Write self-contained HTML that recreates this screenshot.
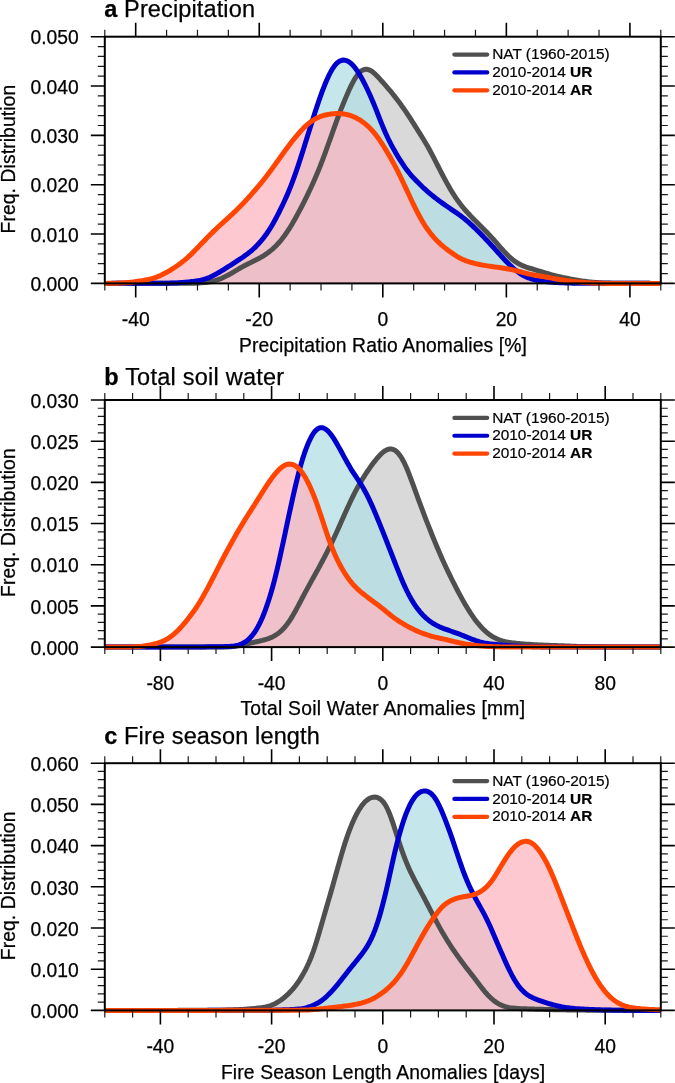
<!DOCTYPE html>
<html><head><meta charset="utf-8"><style>
html,body{margin:0;padding:0;background:#fff;}
body{width:675px;height:1083px;overflow:hidden;}
svg{display:block;will-change:transform;}
.t{font-family:"Liberation Sans", sans-serif;font-size:19.3px;fill:#000;stroke:#000;stroke-width:0.25px;}
.ti{font-family:"Liberation Sans", sans-serif;font-size:23.5px;fill:#000;stroke:#000;stroke-width:0.25px;}
.lg{font-family:"Liberation Sans", sans-serif;font-size:15.4px;fill:#000;stroke:#000;stroke-width:0.2px;}
</style></head><body>
<svg width="675" height="1083" viewBox="0 0 675 1083">
<rect width="675" height="1083" fill="#fff"/>
<path d="M104.80,283.40 L106.30,283.40 L107.80,283.39 L109.30,283.39 L110.80,283.39 L112.30,283.38 L113.80,283.38 L115.30,283.38 L116.80,283.37 L118.30,283.37 L119.80,283.36 L121.30,283.36 L122.80,283.36 L124.30,283.35 L125.80,283.35 L127.30,283.35 L128.80,283.34 L130.30,283.34 L131.80,283.34 L133.30,283.33 L134.80,283.33 L136.30,283.33 L137.80,283.32 L139.30,283.32 L140.80,283.32 L142.30,283.31 L143.80,283.31 L145.30,283.30 L146.80,283.30 L148.30,283.30 L149.80,283.29 L151.30,283.29 L152.80,283.29 L154.30,283.28 L155.80,283.28 L157.30,283.28 L158.80,283.27 L160.30,283.27 L161.80,283.26 L163.30,283.26 L164.80,283.26 L166.30,283.25 L167.80,283.25 L169.30,283.25 L170.80,283.25 L172.30,283.25 L173.80,283.24 L175.30,283.24 L176.80,283.24 L178.30,283.25 L179.80,283.25 L181.30,283.25 L182.80,283.25 L184.30,283.25 L185.80,283.25 L187.30,283.25 L188.80,283.24 L190.30,283.23 L191.80,283.21 L193.30,283.18 L194.80,283.14 L196.30,283.10 L197.80,283.03 L199.30,282.95 L200.80,282.86 L202.30,282.74 L203.80,282.60 L205.30,282.44 L206.80,282.25 L208.30,282.03 L209.80,281.77 L211.30,281.48 L212.80,281.16 L214.30,280.79 L215.80,280.38 L217.30,279.92 L218.80,279.41 L220.30,278.84 L221.80,278.23 L223.30,277.56 L224.80,276.85 L226.30,276.10 L227.80,275.31 L229.30,274.49 L230.80,273.64 L232.30,272.76 L233.80,271.87 L235.30,270.97 L236.80,270.06 L238.30,269.16 L239.80,268.27 L241.30,267.40 L242.80,266.56 L244.30,265.75 L245.80,264.97 L247.30,264.22 L248.80,263.49 L250.30,262.76 L251.80,262.04 L253.30,261.32 L254.80,260.58 L256.30,259.83 L257.80,259.05 L259.30,258.24 L260.80,257.40 L262.30,256.52 L263.80,255.59 L265.30,254.61 L266.80,253.57 L268.30,252.48 L269.80,251.32 L271.30,250.09 L272.80,248.79 L274.30,247.42 L275.80,245.96 L277.30,244.42 L278.80,242.78 L280.30,241.06 L281.80,239.23 L283.30,237.31 L284.80,235.29 L286.30,233.16 L287.80,230.94 L289.30,228.62 L290.80,226.21 L292.30,223.70 L293.80,221.11 L295.30,218.44 L296.80,215.71 L298.30,212.93 L299.80,210.11 L301.30,207.25 L302.80,204.33 L304.30,201.36 L305.80,198.35 L307.30,195.29 L308.80,192.18 L310.30,189.01 L311.80,185.79 L313.30,182.48 L314.80,179.10 L316.30,175.61 L317.80,172.02 L319.30,168.32 L320.80,164.51 L322.30,160.60 L323.80,156.61 L325.30,152.53 L326.80,148.40 L328.30,144.24 L329.80,140.05 L331.30,135.85 L332.80,131.64 L334.30,127.46 L335.80,123.30 L337.30,119.20 L338.80,115.17 L340.30,111.22 L341.80,107.37 L343.30,103.60 L344.80,99.93 L346.30,96.35 L347.80,92.89 L349.30,89.56 L350.80,86.38 L352.30,83.39 L353.80,80.60 L355.30,78.05 L356.80,75.79 L358.30,73.84 L359.80,72.22 L361.30,70.96 L362.80,70.05 L364.30,69.48 L365.80,69.24 L367.30,69.32 L368.80,69.71 L370.30,70.37 L371.80,71.30 L373.30,72.44 L374.80,73.77 L376.30,75.24 L377.80,76.80 L379.30,78.42 L380.80,80.07 L382.30,81.74 L383.80,83.41 L385.30,85.09 L386.80,86.80 L388.30,88.54 L389.80,90.33 L391.30,92.15 L392.80,94.01 L394.30,95.91 L395.80,97.85 L397.30,99.82 L398.80,101.82 L400.30,103.85 L401.80,105.91 L403.30,108.01 L404.80,110.15 L406.30,112.35 L407.80,114.59 L409.30,116.89 L410.80,119.22 L412.30,121.57 L413.80,123.95 L415.30,126.32 L416.80,128.70 L418.30,131.07 L419.80,133.45 L421.30,135.85 L422.80,138.27 L424.30,140.75 L425.80,143.27 L427.30,145.86 L428.80,148.52 L430.30,151.26 L431.80,154.08 L433.30,156.95 L434.80,159.86 L436.30,162.80 L437.80,165.75 L439.30,168.69 L440.80,171.62 L442.30,174.51 L443.80,177.36 L445.30,180.16 L446.80,182.91 L448.30,185.59 L449.80,188.20 L451.30,190.73 L452.80,193.16 L454.30,195.51 L455.80,197.77 L457.30,199.94 L458.80,202.01 L460.30,204.01 L461.80,205.92 L463.30,207.77 L464.80,209.55 L466.30,211.26 L467.80,212.93 L469.30,214.55 L470.80,216.12 L472.30,217.67 L473.80,219.19 L475.30,220.69 L476.80,222.18 L478.30,223.67 L479.80,225.16 L481.30,226.65 L482.80,228.16 L484.30,229.68 L485.80,231.22 L487.30,232.79 L488.80,234.37 L490.30,235.98 L491.80,237.62 L493.30,239.27 L494.80,240.95 L496.30,242.65 L497.80,244.36 L499.30,246.08 L500.80,247.79 L502.30,249.48 L503.80,251.13 L505.30,252.75 L506.80,254.31 L508.30,255.80 L509.80,257.21 L511.30,258.54 L512.80,259.78 L514.30,260.92 L515.80,261.96 L517.30,262.91 L518.80,263.77 L520.30,264.55 L521.80,265.25 L523.30,265.89 L524.80,266.47 L526.30,267.02 L527.80,267.53 L529.30,268.02 L530.80,268.50 L532.30,268.98 L533.80,269.44 L535.30,269.90 L536.80,270.36 L538.30,270.81 L539.80,271.26 L541.30,271.72 L542.80,272.17 L544.30,272.62 L545.80,273.06 L547.30,273.51 L548.80,273.94 L550.30,274.37 L551.80,274.79 L553.30,275.20 L554.80,275.59 L556.30,275.97 L557.80,276.33 L559.30,276.68 L560.80,277.02 L562.30,277.34 L563.80,277.66 L565.30,277.97 L566.80,278.27 L568.30,278.57 L569.80,278.85 L571.30,279.14 L572.80,279.41 L574.30,279.68 L575.80,279.94 L577.30,280.19 L578.80,280.43 L580.30,280.67 L581.80,280.90 L583.30,281.12 L584.80,281.33 L586.30,281.53 L587.80,281.71 L589.30,281.89 L590.80,282.05 L592.30,282.20 L593.80,282.34 L595.30,282.46 L596.80,282.57 L598.30,282.67 L599.80,282.75 L601.30,282.83 L602.80,282.89 L604.30,282.95 L605.80,283.00 L607.30,283.04 L608.80,283.07 L610.30,283.11 L611.80,283.14 L613.30,283.17 L614.80,283.20 L616.30,283.23 L617.80,283.25 L619.30,283.27 L620.80,283.29 L622.30,283.30 L623.80,283.31 L625.30,283.32 L626.80,283.32 L628.30,283.33 L629.80,283.33 L631.30,283.34 L632.80,283.34 L634.30,283.34 L635.80,283.34 L637.30,283.35 L638.80,283.35 L640.30,283.35 L641.80,283.36 L643.30,283.36 L644.80,283.36 L646.30,283.36 L647.80,283.37 L649.30,283.37 L650.80,283.38 L652.30,283.38 L653.80,283.38 L655.30,283.39 L656.80,283.39 L658.30,283.39 L659.80,283.40 L660.80,283.40 L660.80,283.40 L104.80,283.40 Z" fill="#d9d9d9" stroke="none"/>
<path d="M104.80,283.40 L106.30,283.39 L107.80,283.39 L109.30,283.38 L110.80,283.38 L112.30,283.37 L113.80,283.37 L115.30,283.36 L116.80,283.36 L118.30,283.35 L119.80,283.35 L121.30,283.34 L122.80,283.33 L124.30,283.33 L125.80,283.32 L127.30,283.32 L128.80,283.31 L130.30,283.31 L131.80,283.30 L133.30,283.30 L134.80,283.29 L136.30,283.28 L137.80,283.28 L139.30,283.27 L140.80,283.27 L142.30,283.26 L143.80,283.26 L145.30,283.25 L146.80,283.25 L148.30,283.25 L149.80,283.24 L151.30,283.24 L152.80,283.24 L154.30,283.24 L155.80,283.23 L157.30,283.23 L158.80,283.23 L160.30,283.22 L161.80,283.22 L163.30,283.21 L164.80,283.20 L166.30,283.19 L167.80,283.17 L169.30,283.14 L170.80,283.11 L172.30,283.07 L173.80,283.02 L175.30,282.96 L176.80,282.88 L178.30,282.80 L179.80,282.71 L181.30,282.60 L182.80,282.48 L184.30,282.35 L185.80,282.22 L187.30,282.07 L188.80,281.91 L190.30,281.75 L191.80,281.58 L193.30,281.39 L194.80,281.19 L196.30,280.97 L197.80,280.72 L199.30,280.44 L200.80,280.12 L202.30,279.76 L203.80,279.35 L205.30,278.89 L206.80,278.38 L208.30,277.82 L209.80,277.20 L211.30,276.53 L212.80,275.81 L214.30,275.04 L215.80,274.23 L217.30,273.38 L218.80,272.51 L220.30,271.61 L221.80,270.70 L223.30,269.78 L224.80,268.84 L226.30,267.90 L227.80,266.95 L229.30,265.99 L230.80,265.03 L232.30,264.07 L233.80,263.11 L235.30,262.14 L236.80,261.17 L238.30,260.20 L239.80,259.21 L241.30,258.21 L242.80,257.20 L244.30,256.15 L245.80,255.08 L247.30,253.97 L248.80,252.81 L250.30,251.60 L251.80,250.33 L253.30,248.99 L254.80,247.59 L256.30,246.12 L257.80,244.57 L259.30,242.95 L260.80,241.24 L262.30,239.44 L263.80,237.54 L265.30,235.54 L266.80,233.44 L268.30,231.23 L269.80,228.91 L271.30,226.47 L272.80,223.93 L274.30,221.28 L275.80,218.53 L277.30,215.68 L278.80,212.74 L280.30,209.72 L281.80,206.63 L283.30,203.47 L284.80,200.22 L286.30,196.87 L287.80,193.40 L289.30,189.81 L290.80,186.06 L292.30,182.17 L293.80,178.12 L295.30,173.92 L296.80,169.58 L298.30,165.12 L299.80,160.55 L301.30,155.89 L302.80,151.16 L304.30,146.38 L305.80,141.59 L307.30,136.80 L308.80,132.00 L310.30,127.22 L311.80,122.46 L313.30,117.74 L314.80,113.07 L316.30,108.46 L317.80,103.95 L319.30,99.57 L320.80,95.31 L322.30,91.21 L323.80,87.28 L325.30,83.54 L326.80,80.00 L328.30,76.69 L329.80,73.63 L331.30,70.83 L332.80,68.33 L334.30,66.15 L335.80,64.29 L337.30,62.78 L338.80,61.62 L340.30,60.78 L341.80,60.28 L343.30,60.09 L344.80,60.19 L346.30,60.57 L347.80,61.22 L349.30,62.11 L350.80,63.26 L352.30,64.65 L353.80,66.27 L355.30,68.11 L356.80,70.17 L358.30,72.43 L359.80,74.88 L361.30,77.49 L362.80,80.26 L364.30,83.15 L365.80,86.15 L367.30,89.26 L368.80,92.47 L370.30,95.78 L371.80,99.21 L373.30,102.75 L374.80,106.41 L376.30,110.16 L377.80,113.97 L379.30,117.81 L380.80,121.62 L382.30,125.36 L383.80,128.98 L385.30,132.46 L386.80,135.78 L388.30,138.95 L389.80,141.97 L391.30,144.86 L392.80,147.63 L394.30,150.30 L395.80,152.90 L397.30,155.45 L398.80,157.93 L400.30,160.35 L401.80,162.69 L403.30,164.95 L404.80,167.11 L406.30,169.17 L407.80,171.13 L409.30,173.01 L410.80,174.80 L412.30,176.53 L413.80,178.19 L415.30,179.79 L416.80,181.34 L418.30,182.86 L419.80,184.34 L421.30,185.79 L422.80,187.21 L424.30,188.60 L425.80,189.95 L427.30,191.28 L428.80,192.57 L430.30,193.83 L431.80,195.07 L433.30,196.29 L434.80,197.48 L436.30,198.65 L437.80,199.79 L439.30,200.92 L440.80,202.02 L442.30,203.10 L443.80,204.16 L445.30,205.21 L446.80,206.25 L448.30,207.28 L449.80,208.30 L451.30,209.31 L452.80,210.32 L454.30,211.33 L455.80,212.36 L457.30,213.40 L458.80,214.46 L460.30,215.56 L461.80,216.69 L463.30,217.86 L464.80,219.06 L466.30,220.31 L467.80,221.60 L469.30,222.93 L470.80,224.30 L472.30,225.69 L473.80,227.12 L475.30,228.57 L476.80,230.04 L478.30,231.53 L479.80,233.03 L481.30,234.54 L482.80,236.07 L484.30,237.62 L485.80,239.19 L487.30,240.77 L488.80,242.37 L490.30,243.99 L491.80,245.63 L493.30,247.28 L494.80,248.94 L496.30,250.60 L497.80,252.27 L499.30,253.93 L500.80,255.59 L502.30,257.23 L503.80,258.85 L505.30,260.45 L506.80,262.01 L508.30,263.53 L509.80,265.00 L511.30,266.41 L512.80,267.77 L514.30,269.08 L515.80,270.32 L517.30,271.50 L518.80,272.61 L520.30,273.64 L521.80,274.60 L523.30,275.48 L524.80,276.28 L526.30,277.01 L527.80,277.66 L529.30,278.24 L530.80,278.75 L532.30,279.20 L533.80,279.60 L535.30,279.96 L536.80,280.27 L538.30,280.56 L539.80,280.82 L541.30,281.05 L542.80,281.26 L544.30,281.45 L545.80,281.63 L547.30,281.79 L548.80,281.93 L550.30,282.07 L551.80,282.18 L553.30,282.29 L554.80,282.39 L556.30,282.48 L557.80,282.57 L559.30,282.64 L560.80,282.72 L562.30,282.79 L563.80,282.85 L565.30,282.91 L566.80,282.96 L568.30,283.01 L569.80,283.06 L571.30,283.10 L572.80,283.13 L574.30,283.16 L575.80,283.18 L577.30,283.20 L578.80,283.21 L580.30,283.22 L581.80,283.23 L583.30,283.24 L584.80,283.24 L586.30,283.24 L587.80,283.24 L589.30,283.25 L590.80,283.25 L592.30,283.25 L593.80,283.25 L595.30,283.25 L596.80,283.25 L598.30,283.26 L599.80,283.26 L601.30,283.26 L602.80,283.26 L604.30,283.27 L605.80,283.27 L607.30,283.27 L608.80,283.28 L610.30,283.28 L611.80,283.29 L613.30,283.29 L614.80,283.29 L616.30,283.30 L617.80,283.30 L619.30,283.30 L620.80,283.31 L622.30,283.31 L623.80,283.31 L625.30,283.32 L626.80,283.32 L628.30,283.32 L629.80,283.33 L631.30,283.33 L632.80,283.33 L634.30,283.34 L635.80,283.34 L637.30,283.35 L638.80,283.35 L640.30,283.35 L641.80,283.36 L643.30,283.36 L644.80,283.36 L646.30,283.37 L647.80,283.37 L649.30,283.37 L650.80,283.38 L652.30,283.38 L653.80,283.38 L655.30,283.39 L656.80,283.39 L658.30,283.39 L659.80,283.40 L660.80,283.40 L660.80,283.40 L104.80,283.40 Z" fill="rgba(178,223,230,0.75)" stroke="none"/>
<path d="M104.80,283.40 L106.30,283.40 L107.80,283.37 L109.30,283.35 L110.80,283.32 L112.30,283.29 L113.80,283.25 L115.30,283.21 L116.80,283.17 L118.30,283.11 L119.80,283.06 L121.30,282.99 L122.80,282.91 L124.30,282.82 L125.80,282.72 L127.30,282.60 L128.80,282.47 L130.30,282.32 L131.80,282.15 L133.30,281.96 L134.80,281.76 L136.30,281.55 L137.80,281.33 L139.30,281.09 L140.80,280.85 L142.30,280.60 L143.80,280.34 L145.30,280.06 L146.80,279.76 L148.30,279.45 L149.80,279.10 L151.30,278.72 L152.80,278.30 L154.30,277.85 L155.80,277.34 L157.30,276.79 L158.80,276.19 L160.30,275.54 L161.80,274.85 L163.30,274.11 L164.80,273.33 L166.30,272.52 L167.80,271.68 L169.30,270.80 L170.80,269.89 L172.30,268.96 L173.80,268.00 L175.30,267.01 L176.80,265.99 L178.30,264.94 L179.80,263.85 L181.30,262.73 L182.80,261.57 L184.30,260.36 L185.80,259.12 L187.30,257.82 L188.80,256.48 L190.30,255.08 L191.80,253.62 L193.30,252.12 L194.80,250.58 L196.30,249.02 L197.80,247.45 L199.30,245.87 L200.80,244.30 L202.30,242.74 L203.80,241.18 L205.30,239.64 L206.80,238.11 L208.30,236.58 L209.80,235.08 L211.30,233.58 L212.80,232.11 L214.30,230.65 L215.80,229.21 L217.30,227.79 L218.80,226.39 L220.30,225.01 L221.80,223.64 L223.30,222.28 L224.80,220.92 L226.30,219.57 L227.80,218.21 L229.30,216.84 L230.80,215.47 L232.30,214.08 L233.80,212.67 L235.30,211.24 L236.80,209.79 L238.30,208.31 L239.80,206.81 L241.30,205.28 L242.80,203.73 L244.30,202.15 L245.80,200.54 L247.30,198.91 L248.80,197.26 L250.30,195.60 L251.80,193.92 L253.30,192.21 L254.80,190.49 L256.30,188.74 L257.80,186.96 L259.30,185.16 L260.80,183.33 L262.30,181.47 L263.80,179.58 L265.30,177.67 L266.80,175.73 L268.30,173.76 L269.80,171.76 L271.30,169.75 L272.80,167.71 L274.30,165.65 L275.80,163.58 L277.30,161.50 L278.80,159.41 L280.30,157.33 L281.80,155.24 L283.30,153.16 L284.80,151.09 L286.30,149.04 L287.80,147.01 L289.30,144.99 L290.80,143.02 L292.30,141.07 L293.80,139.18 L295.30,137.33 L296.80,135.53 L298.30,133.78 L299.80,132.09 L301.30,130.44 L302.80,128.86 L304.30,127.34 L305.80,125.91 L307.30,124.56 L308.80,123.29 L310.30,122.12 L311.80,121.05 L313.30,120.06 L314.80,119.16 L316.30,118.35 L317.80,117.63 L319.30,116.97 L320.80,116.39 L322.30,115.88 L323.80,115.43 L325.30,115.04 L326.80,114.70 L328.30,114.40 L329.80,114.16 L331.30,113.95 L332.80,113.79 L334.30,113.67 L335.80,113.59 L337.30,113.56 L338.80,113.57 L340.30,113.63 L341.80,113.74 L343.30,113.91 L344.80,114.14 L346.30,114.43 L347.80,114.79 L349.30,115.20 L350.80,115.68 L352.30,116.23 L353.80,116.84 L355.30,117.51 L356.80,118.25 L358.30,119.07 L359.80,119.96 L361.30,120.93 L362.80,121.98 L364.30,123.12 L365.80,124.34 L367.30,125.64 L368.80,127.04 L370.30,128.52 L371.80,130.10 L373.30,131.77 L374.80,133.55 L376.30,135.44 L377.80,137.45 L379.30,139.56 L380.80,141.78 L382.30,144.09 L383.80,146.47 L385.30,148.92 L386.80,151.42 L388.30,153.97 L389.80,156.57 L391.30,159.22 L392.80,161.92 L394.30,164.68 L395.80,167.52 L397.30,170.42 L398.80,173.40 L400.30,176.45 L401.80,179.55 L403.30,182.70 L404.80,185.89 L406.30,189.10 L407.80,192.34 L409.30,195.57 L410.80,198.79 L412.30,201.98 L413.80,205.10 L415.30,208.16 L416.80,211.14 L418.30,214.02 L419.80,216.80 L421.30,219.46 L422.80,222.02 L424.30,224.46 L425.80,226.79 L427.30,228.99 L428.80,231.09 L430.30,233.07 L431.80,234.94 L433.30,236.71 L434.80,238.39 L436.30,239.97 L437.80,241.48 L439.30,242.91 L440.80,244.28 L442.30,245.59 L443.80,246.85 L445.30,248.07 L446.80,249.25 L448.30,250.40 L449.80,251.51 L451.30,252.60 L452.80,253.66 L454.30,254.68 L455.80,255.65 L457.30,256.57 L458.80,257.43 L460.30,258.24 L461.80,258.98 L463.30,259.67 L464.80,260.30 L466.30,260.88 L467.80,261.41 L469.30,261.90 L470.80,262.35 L472.30,262.78 L473.80,263.17 L475.30,263.55 L476.80,263.90 L478.30,264.23 L479.80,264.54 L481.30,264.84 L482.80,265.12 L484.30,265.39 L485.80,265.65 L487.30,265.89 L488.80,266.12 L490.30,266.33 L491.80,266.54 L493.30,266.73 L494.80,266.93 L496.30,267.12 L497.80,267.32 L499.30,267.52 L500.80,267.73 L502.30,267.95 L503.80,268.18 L505.30,268.42 L506.80,268.68 L508.30,268.95 L509.80,269.24 L511.30,269.56 L512.80,269.89 L514.30,270.23 L515.80,270.60 L517.30,270.98 L518.80,271.38 L520.30,271.78 L521.80,272.18 L523.30,272.59 L524.80,272.98 L526.30,273.36 L527.80,273.73 L529.30,274.07 L530.80,274.40 L532.30,274.70 L533.80,274.98 L535.30,275.25 L536.80,275.51 L538.30,275.76 L539.80,276.01 L541.30,276.25 L542.80,276.51 L544.30,276.77 L545.80,277.03 L547.30,277.30 L548.80,277.58 L550.30,277.86 L551.80,278.14 L553.30,278.42 L554.80,278.70 L556.30,278.97 L557.80,279.23 L559.30,279.48 L560.80,279.73 L562.30,279.97 L563.80,280.19 L565.30,280.41 L566.80,280.63 L568.30,280.83 L569.80,281.02 L571.30,281.21 L572.80,281.39 L574.30,281.55 L575.80,281.71 L577.30,281.87 L578.80,282.01 L580.30,282.15 L581.80,282.28 L583.30,282.41 L584.80,282.53 L586.30,282.64 L587.80,282.74 L589.30,282.84 L590.80,282.92 L592.30,283.00 L593.80,283.07 L595.30,283.14 L596.80,283.19 L598.30,283.24 L599.80,283.28 L601.30,283.31 L602.80,283.34 L604.30,283.37 L605.80,283.39 L607.30,283.40 L608.80,283.40 L610.30,283.40 L611.80,283.40 L613.30,283.40 L614.80,283.40 L616.30,283.40 L617.80,283.40 L619.30,283.40 L620.80,283.40 L622.30,283.40 L623.80,283.40 L625.30,283.40 L626.80,283.40 L628.30,283.40 L629.80,283.40 L631.30,283.40 L632.80,283.40 L634.30,283.40 L635.80,283.40 L637.30,283.40 L638.80,283.40 L640.30,283.40 L641.80,283.40 L643.30,283.40 L644.80,283.40 L646.30,283.40 L647.80,283.40 L649.30,283.40 L650.80,283.40 L652.30,283.40 L653.80,283.40 L655.30,283.40 L656.80,283.40 L658.30,283.40 L659.80,283.40 L660.80,283.40 L660.80,283.40 L104.80,283.40 Z" fill="rgba(254,181,192,0.74)" stroke="none"/>
<clipPath id="clipa"><rect x="104.80" y="26.70" width="556.00" height="266.70"/></clipPath>
<g clip-path="url(#clipa)">
<path d="M104.80,283.40 L106.30,283.40 L107.80,283.39 L109.30,283.39 L110.80,283.39 L112.30,283.38 L113.80,283.38 L115.30,283.38 L116.80,283.37 L118.30,283.37 L119.80,283.36 L121.30,283.36 L122.80,283.36 L124.30,283.35 L125.80,283.35 L127.30,283.35 L128.80,283.34 L130.30,283.34 L131.80,283.34 L133.30,283.33 L134.80,283.33 L136.30,283.33 L137.80,283.32 L139.30,283.32 L140.80,283.32 L142.30,283.31 L143.80,283.31 L145.30,283.30 L146.80,283.30 L148.30,283.30 L149.80,283.29 L151.30,283.29 L152.80,283.29 L154.30,283.28 L155.80,283.28 L157.30,283.28 L158.80,283.27 L160.30,283.27 L161.80,283.26 L163.30,283.26 L164.80,283.26 L166.30,283.25 L167.80,283.25 L169.30,283.25 L170.80,283.25 L172.30,283.25 L173.80,283.24 L175.30,283.24 L176.80,283.24 L178.30,283.25 L179.80,283.25 L181.30,283.25 L182.80,283.25 L184.30,283.25 L185.80,283.25 L187.30,283.25 L188.80,283.24 L190.30,283.23 L191.80,283.21 L193.30,283.18 L194.80,283.14 L196.30,283.10 L197.80,283.03 L199.30,282.95 L200.80,282.86 L202.30,282.74 L203.80,282.60 L205.30,282.44 L206.80,282.25 L208.30,282.03 L209.80,281.77 L211.30,281.48 L212.80,281.16 L214.30,280.79 L215.80,280.38 L217.30,279.92 L218.80,279.41 L220.30,278.84 L221.80,278.23 L223.30,277.56 L224.80,276.85 L226.30,276.10 L227.80,275.31 L229.30,274.49 L230.80,273.64 L232.30,272.76 L233.80,271.87 L235.30,270.97 L236.80,270.06 L238.30,269.16 L239.80,268.27 L241.30,267.40 L242.80,266.56 L244.30,265.75 L245.80,264.97 L247.30,264.22 L248.80,263.49 L250.30,262.76 L251.80,262.04 L253.30,261.32 L254.80,260.58 L256.30,259.83 L257.80,259.05 L259.30,258.24 L260.80,257.40 L262.30,256.52 L263.80,255.59 L265.30,254.61 L266.80,253.57 L268.30,252.48 L269.80,251.32 L271.30,250.09 L272.80,248.79 L274.30,247.42 L275.80,245.96 L277.30,244.42 L278.80,242.78 L280.30,241.06 L281.80,239.23 L283.30,237.31 L284.80,235.29 L286.30,233.16 L287.80,230.94 L289.30,228.62 L290.80,226.21 L292.30,223.70 L293.80,221.11 L295.30,218.44 L296.80,215.71 L298.30,212.93 L299.80,210.11 L301.30,207.25 L302.80,204.33 L304.30,201.36 L305.80,198.35 L307.30,195.29 L308.80,192.18 L310.30,189.01 L311.80,185.79 L313.30,182.48 L314.80,179.10 L316.30,175.61 L317.80,172.02 L319.30,168.32 L320.80,164.51 L322.30,160.60 L323.80,156.61 L325.30,152.53 L326.80,148.40 L328.30,144.24 L329.80,140.05 L331.30,135.85 L332.80,131.64 L334.30,127.46 L335.80,123.30 L337.30,119.20 L338.80,115.17 L340.30,111.22 L341.80,107.37 L343.30,103.60 L344.80,99.93 L346.30,96.35 L347.80,92.89 L349.30,89.56 L350.80,86.38 L352.30,83.39 L353.80,80.60 L355.30,78.05 L356.80,75.79 L358.30,73.84 L359.80,72.22 L361.30,70.96 L362.80,70.05 L364.30,69.48 L365.80,69.24 L367.30,69.32 L368.80,69.71 L370.30,70.37 L371.80,71.30 L373.30,72.44 L374.80,73.77 L376.30,75.24 L377.80,76.80 L379.30,78.42 L380.80,80.07 L382.30,81.74 L383.80,83.41 L385.30,85.09 L386.80,86.80 L388.30,88.54 L389.80,90.33 L391.30,92.15 L392.80,94.01 L394.30,95.91 L395.80,97.85 L397.30,99.82 L398.80,101.82 L400.30,103.85 L401.80,105.91 L403.30,108.01 L404.80,110.15 L406.30,112.35 L407.80,114.59 L409.30,116.89 L410.80,119.22 L412.30,121.57 L413.80,123.95 L415.30,126.32 L416.80,128.70 L418.30,131.07 L419.80,133.45 L421.30,135.85 L422.80,138.27 L424.30,140.75 L425.80,143.27 L427.30,145.86 L428.80,148.52 L430.30,151.26 L431.80,154.08 L433.30,156.95 L434.80,159.86 L436.30,162.80 L437.80,165.75 L439.30,168.69 L440.80,171.62 L442.30,174.51 L443.80,177.36 L445.30,180.16 L446.80,182.91 L448.30,185.59 L449.80,188.20 L451.30,190.73 L452.80,193.16 L454.30,195.51 L455.80,197.77 L457.30,199.94 L458.80,202.01 L460.30,204.01 L461.80,205.92 L463.30,207.77 L464.80,209.55 L466.30,211.26 L467.80,212.93 L469.30,214.55 L470.80,216.12 L472.30,217.67 L473.80,219.19 L475.30,220.69 L476.80,222.18 L478.30,223.67 L479.80,225.16 L481.30,226.65 L482.80,228.16 L484.30,229.68 L485.80,231.22 L487.30,232.79 L488.80,234.37 L490.30,235.98 L491.80,237.62 L493.30,239.27 L494.80,240.95 L496.30,242.65 L497.80,244.36 L499.30,246.08 L500.80,247.79 L502.30,249.48 L503.80,251.13 L505.30,252.75 L506.80,254.31 L508.30,255.80 L509.80,257.21 L511.30,258.54 L512.80,259.78 L514.30,260.92 L515.80,261.96 L517.30,262.91 L518.80,263.77 L520.30,264.55 L521.80,265.25 L523.30,265.89 L524.80,266.47 L526.30,267.02 L527.80,267.53 L529.30,268.02 L530.80,268.50 L532.30,268.98 L533.80,269.44 L535.30,269.90 L536.80,270.36 L538.30,270.81 L539.80,271.26 L541.30,271.72 L542.80,272.17 L544.30,272.62 L545.80,273.06 L547.30,273.51 L548.80,273.94 L550.30,274.37 L551.80,274.79 L553.30,275.20 L554.80,275.59 L556.30,275.97 L557.80,276.33 L559.30,276.68 L560.80,277.02 L562.30,277.34 L563.80,277.66 L565.30,277.97 L566.80,278.27 L568.30,278.57 L569.80,278.85 L571.30,279.14 L572.80,279.41 L574.30,279.68 L575.80,279.94 L577.30,280.19 L578.80,280.43 L580.30,280.67 L581.80,280.90 L583.30,281.12 L584.80,281.33 L586.30,281.53 L587.80,281.71 L589.30,281.89 L590.80,282.05 L592.30,282.20 L593.80,282.34 L595.30,282.46 L596.80,282.57 L598.30,282.67 L599.80,282.75 L601.30,282.83 L602.80,282.89 L604.30,282.95 L605.80,283.00 L607.30,283.04 L608.80,283.07 L610.30,283.11 L611.80,283.14 L613.30,283.17 L614.80,283.20 L616.30,283.23 L617.80,283.25 L619.30,283.27 L620.80,283.29 L622.30,283.30 L623.80,283.31 L625.30,283.32 L626.80,283.32 L628.30,283.33 L629.80,283.33 L631.30,283.34 L632.80,283.34 L634.30,283.34 L635.80,283.34 L637.30,283.35 L638.80,283.35 L640.30,283.35 L641.80,283.36 L643.30,283.36 L644.80,283.36 L646.30,283.36 L647.80,283.37 L649.30,283.37 L650.80,283.38 L652.30,283.38 L653.80,283.38 L655.30,283.39 L656.80,283.39 L658.30,283.39 L659.80,283.40 L660.80,283.40" fill="none" stroke="#4f4f4f" stroke-width="5.00" stroke-linejoin="round" stroke-linecap="round"/>
<path d="M104.80,283.40 L106.30,283.39 L107.80,283.39 L109.30,283.38 L110.80,283.38 L112.30,283.37 L113.80,283.37 L115.30,283.36 L116.80,283.36 L118.30,283.35 L119.80,283.35 L121.30,283.34 L122.80,283.33 L124.30,283.33 L125.80,283.32 L127.30,283.32 L128.80,283.31 L130.30,283.31 L131.80,283.30 L133.30,283.30 L134.80,283.29 L136.30,283.28 L137.80,283.28 L139.30,283.27 L140.80,283.27 L142.30,283.26 L143.80,283.26 L145.30,283.25 L146.80,283.25 L148.30,283.25 L149.80,283.24 L151.30,283.24 L152.80,283.24 L154.30,283.24 L155.80,283.23 L157.30,283.23 L158.80,283.23 L160.30,283.22 L161.80,283.22 L163.30,283.21 L164.80,283.20 L166.30,283.19 L167.80,283.17 L169.30,283.14 L170.80,283.11 L172.30,283.07 L173.80,283.02 L175.30,282.96 L176.80,282.88 L178.30,282.80 L179.80,282.71 L181.30,282.60 L182.80,282.48 L184.30,282.35 L185.80,282.22 L187.30,282.07 L188.80,281.91 L190.30,281.75 L191.80,281.58 L193.30,281.39 L194.80,281.19 L196.30,280.97 L197.80,280.72 L199.30,280.44 L200.80,280.12 L202.30,279.76 L203.80,279.35 L205.30,278.89 L206.80,278.38 L208.30,277.82 L209.80,277.20 L211.30,276.53 L212.80,275.81 L214.30,275.04 L215.80,274.23 L217.30,273.38 L218.80,272.51 L220.30,271.61 L221.80,270.70 L223.30,269.78 L224.80,268.84 L226.30,267.90 L227.80,266.95 L229.30,265.99 L230.80,265.03 L232.30,264.07 L233.80,263.11 L235.30,262.14 L236.80,261.17 L238.30,260.20 L239.80,259.21 L241.30,258.21 L242.80,257.20 L244.30,256.15 L245.80,255.08 L247.30,253.97 L248.80,252.81 L250.30,251.60 L251.80,250.33 L253.30,248.99 L254.80,247.59 L256.30,246.12 L257.80,244.57 L259.30,242.95 L260.80,241.24 L262.30,239.44 L263.80,237.54 L265.30,235.54 L266.80,233.44 L268.30,231.23 L269.80,228.91 L271.30,226.47 L272.80,223.93 L274.30,221.28 L275.80,218.53 L277.30,215.68 L278.80,212.74 L280.30,209.72 L281.80,206.63 L283.30,203.47 L284.80,200.22 L286.30,196.87 L287.80,193.40 L289.30,189.81 L290.80,186.06 L292.30,182.17 L293.80,178.12 L295.30,173.92 L296.80,169.58 L298.30,165.12 L299.80,160.55 L301.30,155.89 L302.80,151.16 L304.30,146.38 L305.80,141.59 L307.30,136.80 L308.80,132.00 L310.30,127.22 L311.80,122.46 L313.30,117.74 L314.80,113.07 L316.30,108.46 L317.80,103.95 L319.30,99.57 L320.80,95.31 L322.30,91.21 L323.80,87.28 L325.30,83.54 L326.80,80.00 L328.30,76.69 L329.80,73.63 L331.30,70.83 L332.80,68.33 L334.30,66.15 L335.80,64.29 L337.30,62.78 L338.80,61.62 L340.30,60.78 L341.80,60.28 L343.30,60.09 L344.80,60.19 L346.30,60.57 L347.80,61.22 L349.30,62.11 L350.80,63.26 L352.30,64.65 L353.80,66.27 L355.30,68.11 L356.80,70.17 L358.30,72.43 L359.80,74.88 L361.30,77.49 L362.80,80.26 L364.30,83.15 L365.80,86.15 L367.30,89.26 L368.80,92.47 L370.30,95.78 L371.80,99.21 L373.30,102.75 L374.80,106.41 L376.30,110.16 L377.80,113.97 L379.30,117.81 L380.80,121.62 L382.30,125.36 L383.80,128.98 L385.30,132.46 L386.80,135.78 L388.30,138.95 L389.80,141.97 L391.30,144.86 L392.80,147.63 L394.30,150.30 L395.80,152.90 L397.30,155.45 L398.80,157.93 L400.30,160.35 L401.80,162.69 L403.30,164.95 L404.80,167.11 L406.30,169.17 L407.80,171.13 L409.30,173.01 L410.80,174.80 L412.30,176.53 L413.80,178.19 L415.30,179.79 L416.80,181.34 L418.30,182.86 L419.80,184.34 L421.30,185.79 L422.80,187.21 L424.30,188.60 L425.80,189.95 L427.30,191.28 L428.80,192.57 L430.30,193.83 L431.80,195.07 L433.30,196.29 L434.80,197.48 L436.30,198.65 L437.80,199.79 L439.30,200.92 L440.80,202.02 L442.30,203.10 L443.80,204.16 L445.30,205.21 L446.80,206.25 L448.30,207.28 L449.80,208.30 L451.30,209.31 L452.80,210.32 L454.30,211.33 L455.80,212.36 L457.30,213.40 L458.80,214.46 L460.30,215.56 L461.80,216.69 L463.30,217.86 L464.80,219.06 L466.30,220.31 L467.80,221.60 L469.30,222.93 L470.80,224.30 L472.30,225.69 L473.80,227.12 L475.30,228.57 L476.80,230.04 L478.30,231.53 L479.80,233.03 L481.30,234.54 L482.80,236.07 L484.30,237.62 L485.80,239.19 L487.30,240.77 L488.80,242.37 L490.30,243.99 L491.80,245.63 L493.30,247.28 L494.80,248.94 L496.30,250.60 L497.80,252.27 L499.30,253.93 L500.80,255.59 L502.30,257.23 L503.80,258.85 L505.30,260.45 L506.80,262.01 L508.30,263.53 L509.80,265.00 L511.30,266.41 L512.80,267.77 L514.30,269.08 L515.80,270.32 L517.30,271.50 L518.80,272.61 L520.30,273.64 L521.80,274.60 L523.30,275.48 L524.80,276.28 L526.30,277.01 L527.80,277.66 L529.30,278.24 L530.80,278.75 L532.30,279.20 L533.80,279.60 L535.30,279.96 L536.80,280.27 L538.30,280.56 L539.80,280.82 L541.30,281.05 L542.80,281.26 L544.30,281.45 L545.80,281.63 L547.30,281.79 L548.80,281.93 L550.30,282.07 L551.80,282.18 L553.30,282.29 L554.80,282.39 L556.30,282.48 L557.80,282.57 L559.30,282.64 L560.80,282.72 L562.30,282.79 L563.80,282.85 L565.30,282.91 L566.80,282.96 L568.30,283.01 L569.80,283.06 L571.30,283.10 L572.80,283.13 L574.30,283.16 L575.80,283.18 L577.30,283.20 L578.80,283.21 L580.30,283.22 L581.80,283.23 L583.30,283.24 L584.80,283.24 L586.30,283.24 L587.80,283.24 L589.30,283.25 L590.80,283.25 L592.30,283.25 L593.80,283.25 L595.30,283.25 L596.80,283.25 L598.30,283.26 L599.80,283.26 L601.30,283.26 L602.80,283.26 L604.30,283.27 L605.80,283.27 L607.30,283.27 L608.80,283.28 L610.30,283.28 L611.80,283.29 L613.30,283.29 L614.80,283.29 L616.30,283.30 L617.80,283.30 L619.30,283.30 L620.80,283.31 L622.30,283.31 L623.80,283.31 L625.30,283.32 L626.80,283.32 L628.30,283.32 L629.80,283.33 L631.30,283.33 L632.80,283.33 L634.30,283.34 L635.80,283.34 L637.30,283.35 L638.80,283.35 L640.30,283.35 L641.80,283.36 L643.30,283.36 L644.80,283.36 L646.30,283.37 L647.80,283.37 L649.30,283.37 L650.80,283.38 L652.30,283.38 L653.80,283.38 L655.30,283.39 L656.80,283.39 L658.30,283.39 L659.80,283.40 L660.80,283.40" fill="none" stroke="#0000cd" stroke-width="5.00" stroke-linejoin="round" stroke-linecap="round"/>
<path d="M104.80,283.40 L106.30,283.40 L107.80,283.37 L109.30,283.35 L110.80,283.32 L112.30,283.29 L113.80,283.25 L115.30,283.21 L116.80,283.17 L118.30,283.11 L119.80,283.06 L121.30,282.99 L122.80,282.91 L124.30,282.82 L125.80,282.72 L127.30,282.60 L128.80,282.47 L130.30,282.32 L131.80,282.15 L133.30,281.96 L134.80,281.76 L136.30,281.55 L137.80,281.33 L139.30,281.09 L140.80,280.85 L142.30,280.60 L143.80,280.34 L145.30,280.06 L146.80,279.76 L148.30,279.45 L149.80,279.10 L151.30,278.72 L152.80,278.30 L154.30,277.85 L155.80,277.34 L157.30,276.79 L158.80,276.19 L160.30,275.54 L161.80,274.85 L163.30,274.11 L164.80,273.33 L166.30,272.52 L167.80,271.68 L169.30,270.80 L170.80,269.89 L172.30,268.96 L173.80,268.00 L175.30,267.01 L176.80,265.99 L178.30,264.94 L179.80,263.85 L181.30,262.73 L182.80,261.57 L184.30,260.36 L185.80,259.12 L187.30,257.82 L188.80,256.48 L190.30,255.08 L191.80,253.62 L193.30,252.12 L194.80,250.58 L196.30,249.02 L197.80,247.45 L199.30,245.87 L200.80,244.30 L202.30,242.74 L203.80,241.18 L205.30,239.64 L206.80,238.11 L208.30,236.58 L209.80,235.08 L211.30,233.58 L212.80,232.11 L214.30,230.65 L215.80,229.21 L217.30,227.79 L218.80,226.39 L220.30,225.01 L221.80,223.64 L223.30,222.28 L224.80,220.92 L226.30,219.57 L227.80,218.21 L229.30,216.84 L230.80,215.47 L232.30,214.08 L233.80,212.67 L235.30,211.24 L236.80,209.79 L238.30,208.31 L239.80,206.81 L241.30,205.28 L242.80,203.73 L244.30,202.15 L245.80,200.54 L247.30,198.91 L248.80,197.26 L250.30,195.60 L251.80,193.92 L253.30,192.21 L254.80,190.49 L256.30,188.74 L257.80,186.96 L259.30,185.16 L260.80,183.33 L262.30,181.47 L263.80,179.58 L265.30,177.67 L266.80,175.73 L268.30,173.76 L269.80,171.76 L271.30,169.75 L272.80,167.71 L274.30,165.65 L275.80,163.58 L277.30,161.50 L278.80,159.41 L280.30,157.33 L281.80,155.24 L283.30,153.16 L284.80,151.09 L286.30,149.04 L287.80,147.01 L289.30,144.99 L290.80,143.02 L292.30,141.07 L293.80,139.18 L295.30,137.33 L296.80,135.53 L298.30,133.78 L299.80,132.09 L301.30,130.44 L302.80,128.86 L304.30,127.34 L305.80,125.91 L307.30,124.56 L308.80,123.29 L310.30,122.12 L311.80,121.05 L313.30,120.06 L314.80,119.16 L316.30,118.35 L317.80,117.63 L319.30,116.97 L320.80,116.39 L322.30,115.88 L323.80,115.43 L325.30,115.04 L326.80,114.70 L328.30,114.40 L329.80,114.16 L331.30,113.95 L332.80,113.79 L334.30,113.67 L335.80,113.59 L337.30,113.56 L338.80,113.57 L340.30,113.63 L341.80,113.74 L343.30,113.91 L344.80,114.14 L346.30,114.43 L347.80,114.79 L349.30,115.20 L350.80,115.68 L352.30,116.23 L353.80,116.84 L355.30,117.51 L356.80,118.25 L358.30,119.07 L359.80,119.96 L361.30,120.93 L362.80,121.98 L364.30,123.12 L365.80,124.34 L367.30,125.64 L368.80,127.04 L370.30,128.52 L371.80,130.10 L373.30,131.77 L374.80,133.55 L376.30,135.44 L377.80,137.45 L379.30,139.56 L380.80,141.78 L382.30,144.09 L383.80,146.47 L385.30,148.92 L386.80,151.42 L388.30,153.97 L389.80,156.57 L391.30,159.22 L392.80,161.92 L394.30,164.68 L395.80,167.52 L397.30,170.42 L398.80,173.40 L400.30,176.45 L401.80,179.55 L403.30,182.70 L404.80,185.89 L406.30,189.10 L407.80,192.34 L409.30,195.57 L410.80,198.79 L412.30,201.98 L413.80,205.10 L415.30,208.16 L416.80,211.14 L418.30,214.02 L419.80,216.80 L421.30,219.46 L422.80,222.02 L424.30,224.46 L425.80,226.79 L427.30,228.99 L428.80,231.09 L430.30,233.07 L431.80,234.94 L433.30,236.71 L434.80,238.39 L436.30,239.97 L437.80,241.48 L439.30,242.91 L440.80,244.28 L442.30,245.59 L443.80,246.85 L445.30,248.07 L446.80,249.25 L448.30,250.40 L449.80,251.51 L451.30,252.60 L452.80,253.66 L454.30,254.68 L455.80,255.65 L457.30,256.57 L458.80,257.43 L460.30,258.24 L461.80,258.98 L463.30,259.67 L464.80,260.30 L466.30,260.88 L467.80,261.41 L469.30,261.90 L470.80,262.35 L472.30,262.78 L473.80,263.17 L475.30,263.55 L476.80,263.90 L478.30,264.23 L479.80,264.54 L481.30,264.84 L482.80,265.12 L484.30,265.39 L485.80,265.65 L487.30,265.89 L488.80,266.12 L490.30,266.33 L491.80,266.54 L493.30,266.73 L494.80,266.93 L496.30,267.12 L497.80,267.32 L499.30,267.52 L500.80,267.73 L502.30,267.95 L503.80,268.18 L505.30,268.42 L506.80,268.68 L508.30,268.95 L509.80,269.24 L511.30,269.56 L512.80,269.89 L514.30,270.23 L515.80,270.60 L517.30,270.98 L518.80,271.38 L520.30,271.78 L521.80,272.18 L523.30,272.59 L524.80,272.98 L526.30,273.36 L527.80,273.73 L529.30,274.07 L530.80,274.40 L532.30,274.70 L533.80,274.98 L535.30,275.25 L536.80,275.51 L538.30,275.76 L539.80,276.01 L541.30,276.25 L542.80,276.51 L544.30,276.77 L545.80,277.03 L547.30,277.30 L548.80,277.58 L550.30,277.86 L551.80,278.14 L553.30,278.42 L554.80,278.70 L556.30,278.97 L557.80,279.23 L559.30,279.48 L560.80,279.73 L562.30,279.97 L563.80,280.19 L565.30,280.41 L566.80,280.63 L568.30,280.83 L569.80,281.02 L571.30,281.21 L572.80,281.39 L574.30,281.55 L575.80,281.71 L577.30,281.87 L578.80,282.01 L580.30,282.15 L581.80,282.28 L583.30,282.41 L584.80,282.53 L586.30,282.64 L587.80,282.74 L589.30,282.84 L590.80,282.92 L592.30,283.00 L593.80,283.07 L595.30,283.14 L596.80,283.19 L598.30,283.24 L599.80,283.28 L601.30,283.31 L602.80,283.34 L604.30,283.37 L605.80,283.39 L607.30,283.40 L608.80,283.40 L610.30,283.40 L611.80,283.40 L613.30,283.40 L614.80,283.40 L616.30,283.40 L617.80,283.40 L619.30,283.40 L620.80,283.40 L622.30,283.40 L623.80,283.40 L625.30,283.40 L626.80,283.40 L628.30,283.40 L629.80,283.40 L631.30,283.40 L632.80,283.40 L634.30,283.40 L635.80,283.40 L637.30,283.40 L638.80,283.40 L640.30,283.40 L641.80,283.40 L643.30,283.40 L644.80,283.40 L646.30,283.40 L647.80,283.40 L649.30,283.40 L650.80,283.40 L652.30,283.40 L653.80,283.40 L655.30,283.40 L656.80,283.40 L658.30,283.40 L659.80,283.40 L660.80,283.40" fill="none" stroke="#ff4500" stroke-width="5.00" stroke-linejoin="round" stroke-linecap="round"/>
</g>
<path d="M135.69,283.40V297.40M135.69,36.70V22.70M259.24,283.40V297.40M259.24,36.70V22.70M382.80,283.40V297.40M382.80,36.70V22.70M506.36,283.40V297.40M506.36,36.70V22.70M629.91,283.40V297.40M629.91,36.70V22.70M104.80,283.40H90.80M660.80,283.40H674.80M104.80,234.06H90.80M660.80,234.06H674.80M104.80,184.72H90.80M660.80,184.72H674.80M104.80,135.38H90.80M660.80,135.38H674.80M104.80,86.04H90.80M660.80,86.04H674.80M104.80,36.70H90.80M660.80,36.70H674.80" stroke="#000" stroke-width="1.6" fill="none"/>
<path d="M104.80,283.40V290.40M104.80,36.70V29.70M166.58,283.40V290.40M166.58,36.70V29.70M197.47,283.40V290.40M197.47,36.70V29.70M228.36,283.40V290.40M228.36,36.70V29.70M290.13,283.40V290.40M290.13,36.70V29.70M321.02,283.40V290.40M321.02,36.70V29.70M351.91,283.40V290.40M351.91,36.70V29.70M413.69,283.40V290.40M413.69,36.70V29.70M444.58,283.40V290.40M444.58,36.70V29.70M475.47,283.40V290.40M475.47,36.70V29.70M537.24,283.40V290.40M537.24,36.70V29.70M568.13,283.40V290.40M568.13,36.70V29.70M599.02,283.40V290.40M599.02,36.70V29.70M660.80,283.40V290.40M660.80,36.70V29.70M104.80,273.53H97.80M660.80,273.53H667.80M104.80,263.66H97.80M660.80,263.66H667.80M104.80,253.80H97.80M660.80,253.80H667.80M104.80,243.93H97.80M660.80,243.93H667.80M104.80,224.19H97.80M660.80,224.19H667.80M104.80,214.32H97.80M660.80,214.32H667.80M104.80,204.46H97.80M660.80,204.46H667.80M104.80,194.59H97.80M660.80,194.59H667.80M104.80,174.85H97.80M660.80,174.85H667.80M104.80,164.98H97.80M660.80,164.98H667.80M104.80,155.12H97.80M660.80,155.12H667.80M104.80,145.25H97.80M660.80,145.25H667.80M104.80,125.51H97.80M660.80,125.51H667.80M104.80,115.64H97.80M660.80,115.64H667.80M104.80,105.78H97.80M660.80,105.78H667.80M104.80,95.91H97.80M660.80,95.91H667.80M104.80,76.17H97.80M660.80,76.17H667.80M104.80,66.30H97.80M660.80,66.30H667.80M104.80,56.44H97.80M660.80,56.44H667.80M104.80,46.57H97.80M660.80,46.57H667.80" stroke="#1a1a1a" stroke-width="1.2" fill="none"/>
<rect x="104.80" y="36.70" width="556.00" height="246.70" fill="none" stroke="#000" stroke-width="2.00"/>
<text x="135.69" y="325.80" text-anchor="middle" class="t">-40</text>
<text x="259.24" y="325.80" text-anchor="middle" class="t">-20</text>
<text x="382.80" y="325.80" text-anchor="middle" class="t">0</text>
<text x="506.36" y="325.80" text-anchor="middle" class="t">20</text>
<text x="629.91" y="325.80" text-anchor="middle" class="t">40</text>
<text x="78.80" y="291.10" text-anchor="end" class="t">0.000</text>
<text x="78.80" y="241.76" text-anchor="end" class="t">0.010</text>
<text x="78.80" y="192.42" text-anchor="end" class="t">0.020</text>
<text x="78.80" y="143.08" text-anchor="end" class="t">0.030</text>
<text x="78.80" y="93.74" text-anchor="end" class="t">0.040</text>
<text x="78.80" y="44.40" text-anchor="end" class="t">0.050</text>
<text x="104.20" y="16.60" class="ti" textLength="150.8" lengthAdjust="spacing"><tspan font-weight="bold">a</tspan> Precipitation</text>
<text x="382.90" y="351.50" text-anchor="middle" class="t" textLength="288.0" lengthAdjust="spacing">Precipitation Ratio Anomalies [%]</text>
<text x="0" y="0" transform="translate(14.5,159.15) rotate(-90)" text-anchor="middle" class="t" textLength="148.6" lengthAdjust="spacing">Freq. Distribution</text>
<line x1="454.40" y1="54.60" x2="487.20" y2="54.60" stroke="#4f4f4f" stroke-width="4.2" stroke-linecap="round"/>
<text x="492.20" y="59.20" class="lg">NAT (1960-2015)</text>
<line x1="454.40" y1="72.45" x2="487.20" y2="72.45" stroke="#0000cd" stroke-width="4.2" stroke-linecap="round"/>
<text x="492.20" y="77.05" class="lg">2010-2014 <tspan font-weight="bold">UR</tspan></text>
<line x1="454.40" y1="90.30" x2="487.20" y2="90.30" stroke="#ff4500" stroke-width="4.2" stroke-linecap="round"/>
<text x="492.20" y="94.90" class="lg">2010-2014 <tspan font-weight="bold">AR</tspan></text>
<path d="M104.80,647.10 L106.30,647.10 L107.80,647.10 L109.30,647.10 L110.80,647.09 L112.30,647.09 L113.80,647.09 L115.30,647.09 L116.80,647.09 L118.30,647.09 L119.80,647.09 L121.30,647.09 L122.80,647.08 L124.30,647.08 L125.80,647.08 L127.30,647.08 L128.80,647.08 L130.30,647.08 L131.80,647.08 L133.30,647.08 L134.80,647.07 L136.30,647.07 L137.80,647.07 L139.30,647.07 L140.80,647.07 L142.30,647.07 L143.80,647.07 L145.30,647.06 L146.80,647.06 L148.30,647.06 L149.80,647.06 L151.30,647.06 L152.80,647.06 L154.30,647.06 L155.80,647.06 L157.30,647.05 L158.80,647.05 L160.30,647.05 L161.80,647.05 L163.30,647.05 L164.80,647.05 L166.30,647.05 L167.80,647.05 L169.30,647.04 L170.80,647.04 L172.30,647.04 L173.80,647.04 L175.30,647.04 L176.80,647.04 L178.30,647.04 L179.80,647.03 L181.30,647.03 L182.80,647.03 L184.30,647.03 L185.80,647.03 L187.30,647.03 L188.80,647.03 L190.30,647.02 L191.80,647.02 L193.30,647.02 L194.80,647.02 L196.30,647.02 L197.80,647.02 L199.30,647.02 L200.80,647.02 L202.30,647.02 L203.80,647.02 L205.30,647.02 L206.80,647.02 L208.30,647.03 L209.80,647.03 L211.30,647.04 L212.80,647.04 L214.30,647.05 L215.80,647.06 L217.30,647.06 L218.80,647.06 L220.30,647.06 L221.80,647.05 L223.30,647.03 L224.80,647.01 L226.30,646.97 L227.80,646.91 L229.30,646.83 L230.80,646.72 L232.30,646.59 L233.80,646.43 L235.30,646.24 L236.80,646.01 L238.30,645.76 L239.80,645.48 L241.30,645.17 L242.80,644.85 L244.30,644.52 L245.80,644.18 L247.30,643.84 L248.80,643.49 L250.30,643.15 L251.80,642.81 L253.30,642.48 L254.80,642.15 L256.30,641.81 L257.80,641.48 L259.30,641.14 L260.80,640.78 L262.30,640.42 L263.80,640.02 L265.30,639.59 L266.80,639.13 L268.30,638.61 L269.80,638.04 L271.30,637.41 L272.80,636.69 L274.30,635.90 L275.80,635.01 L277.30,634.01 L278.80,632.90 L280.30,631.67 L281.80,630.30 L283.30,628.79 L284.80,627.12 L286.30,625.29 L287.80,623.30 L289.30,621.16 L290.80,618.87 L292.30,616.43 L293.80,613.85 L295.30,611.17 L296.80,608.40 L298.30,605.58 L299.80,602.72 L301.30,599.87 L302.80,597.02 L304.30,594.19 L305.80,591.38 L307.30,588.60 L308.80,585.84 L310.30,583.11 L311.80,580.40 L313.30,577.71 L314.80,575.01 L316.30,572.31 L317.80,569.58 L319.30,566.83 L320.80,564.05 L322.30,561.24 L323.80,558.39 L325.30,555.51 L326.80,552.59 L328.30,549.63 L329.80,546.63 L331.30,543.58 L332.80,540.46 L334.30,537.27 L335.80,534.02 L337.30,530.71 L338.80,527.36 L340.30,523.98 L341.80,520.58 L343.30,517.20 L344.80,513.83 L346.30,510.50 L347.80,507.21 L349.30,503.97 L350.80,500.79 L352.30,497.68 L353.80,494.65 L355.30,491.71 L356.80,488.87 L358.30,486.13 L359.80,483.49 L361.30,480.95 L362.80,478.49 L364.30,476.10 L365.80,473.77 L367.30,471.50 L368.80,469.30 L370.30,467.16 L371.80,465.09 L373.30,463.08 L374.80,461.13 L376.30,459.26 L377.80,457.48 L379.30,455.81 L380.80,454.26 L382.30,452.87 L383.80,451.65 L385.30,450.64 L386.80,449.85 L388.30,449.30 L389.80,449.03 L391.30,449.04 L392.80,449.35 L394.30,449.98 L395.80,450.94 L397.30,452.25 L398.80,453.90 L400.30,455.90 L401.80,458.26 L403.30,460.96 L404.80,463.98 L406.30,467.28 L407.80,470.84 L409.30,474.61 L410.80,478.54 L412.30,482.59 L413.80,486.70 L415.30,490.84 L416.80,494.98 L418.30,499.10 L419.80,503.19 L421.30,507.22 L422.80,511.21 L424.30,515.14 L425.80,519.03 L427.30,522.87 L428.80,526.69 L430.30,530.48 L431.80,534.23 L433.30,537.95 L434.80,541.62 L436.30,545.24 L437.80,548.81 L439.30,552.31 L440.80,555.76 L442.30,559.14 L443.80,562.46 L445.30,565.73 L446.80,568.95 L448.30,572.10 L449.80,575.20 L451.30,578.25 L452.80,581.25 L454.30,584.20 L455.80,587.12 L457.30,590.01 L458.80,592.86 L460.30,595.67 L461.80,598.43 L463.30,601.12 L464.80,603.75 L466.30,606.31 L467.80,608.78 L469.30,611.18 L470.80,613.49 L472.30,615.72 L473.80,617.86 L475.30,619.91 L476.80,621.86 L478.30,623.72 L479.80,625.48 L481.30,627.15 L482.80,628.73 L484.30,630.21 L485.80,631.59 L487.30,632.87 L488.80,634.06 L490.30,635.15 L491.80,636.14 L493.30,637.04 L494.80,637.86 L496.30,638.59 L497.80,639.26 L499.30,639.85 L500.80,640.39 L502.30,640.86 L503.80,641.28 L505.30,641.65 L506.80,641.97 L508.30,642.26 L509.80,642.51 L511.30,642.73 L512.80,642.92 L514.30,643.09 L515.80,643.25 L517.30,643.40 L518.80,643.54 L520.30,643.67 L521.80,643.79 L523.30,643.91 L524.80,644.03 L526.30,644.14 L527.80,644.25 L529.30,644.35 L530.80,644.46 L532.30,644.55 L533.80,644.65 L535.30,644.74 L536.80,644.82 L538.30,644.90 L539.80,644.98 L541.30,645.05 L542.80,645.11 L544.30,645.17 L545.80,645.23 L547.30,645.28 L548.80,645.34 L550.30,645.39 L551.80,645.44 L553.30,645.49 L554.80,645.54 L556.30,645.59 L557.80,645.65 L559.30,645.70 L560.80,645.76 L562.30,645.82 L563.80,645.87 L565.30,645.93 L566.80,645.99 L568.30,646.05 L569.80,646.11 L571.30,646.17 L572.80,646.23 L574.30,646.28 L575.80,646.33 L577.30,646.38 L578.80,646.43 L580.30,646.47 L581.80,646.51 L583.30,646.54 L584.80,646.57 L586.30,646.60 L587.80,646.63 L589.30,646.65 L590.80,646.67 L592.30,646.70 L593.80,646.72 L595.30,646.74 L596.80,646.76 L598.30,646.78 L599.80,646.80 L601.30,646.83 L602.80,646.85 L604.30,646.87 L605.80,646.89 L607.30,646.92 L608.80,646.94 L610.30,646.96 L611.80,646.98 L613.30,647.00 L614.80,647.02 L616.30,647.04 L617.80,647.06 L619.30,647.07 L620.80,647.08 L622.30,647.09 L623.80,647.10 L625.30,647.10 L626.80,647.10 L628.30,647.10 L629.80,647.10 L631.30,647.10 L632.80,647.10 L634.30,647.10 L635.80,647.10 L637.30,647.10 L638.80,647.10 L640.30,647.10 L641.80,647.10 L643.30,647.10 L644.80,647.10 L646.30,647.10 L647.80,647.10 L649.30,647.10 L650.80,647.10 L652.30,647.10 L653.80,647.10 L655.30,647.10 L656.80,647.10 L658.30,647.10 L659.80,647.10 L660.80,647.10 L660.80,647.10 L104.80,647.10 Z" fill="#d9d9d9" stroke="none"/>
<path d="M104.80,647.10 L106.30,647.10 L107.80,647.10 L109.30,647.10 L110.80,647.09 L112.30,647.09 L113.80,647.09 L115.30,647.09 L116.80,647.09 L118.30,647.09 L119.80,647.08 L121.30,647.08 L122.80,647.08 L124.30,647.08 L125.80,647.08 L127.30,647.08 L128.80,647.07 L130.30,647.07 L131.80,647.07 L133.30,647.07 L134.80,647.07 L136.30,647.07 L137.80,647.07 L139.30,647.06 L140.80,647.06 L142.30,647.06 L143.80,647.06 L145.30,647.06 L146.80,647.06 L148.30,647.05 L149.80,647.05 L151.30,647.05 L152.80,647.05 L154.30,647.05 L155.80,647.05 L157.30,647.04 L158.80,647.04 L160.30,647.04 L161.80,647.04 L163.30,647.04 L164.80,647.04 L166.30,647.04 L167.80,647.03 L169.30,647.03 L170.80,647.03 L172.30,647.03 L173.80,647.03 L175.30,647.03 L176.80,647.02 L178.30,647.02 L179.80,647.02 L181.30,647.02 L182.80,647.02 L184.30,647.02 L185.80,647.02 L187.30,647.02 L188.80,647.02 L190.30,647.02 L191.80,647.02 L193.30,647.01 L194.80,647.01 L196.30,647.00 L197.80,647.00 L199.30,646.98 L200.80,646.97 L202.30,646.95 L203.80,646.92 L205.30,646.90 L206.80,646.87 L208.30,646.84 L209.80,646.81 L211.30,646.78 L212.80,646.76 L214.30,646.73 L215.80,646.71 L217.30,646.70 L218.80,646.68 L220.30,646.67 L221.80,646.65 L223.30,646.63 L224.80,646.61 L226.30,646.58 L227.80,646.53 L229.30,646.47 L230.80,646.36 L232.30,646.22 L233.80,646.03 L235.30,645.78 L236.80,645.46 L238.30,645.06 L239.80,644.57 L241.30,643.99 L242.80,643.30 L244.30,642.48 L245.80,641.53 L247.30,640.41 L248.80,639.12 L250.30,637.64 L251.80,635.96 L253.30,634.07 L254.80,631.96 L256.30,629.61 L257.80,627.02 L259.30,624.18 L260.80,621.08 L262.30,617.71 L263.80,614.07 L265.30,610.15 L266.80,605.96 L268.30,601.51 L269.80,596.81 L271.30,591.82 L272.80,586.50 L274.30,580.82 L275.80,574.82 L277.30,568.56 L278.80,562.07 L280.30,555.39 L281.80,548.58 L283.30,541.66 L284.80,534.65 L286.30,527.60 L287.80,520.55 L289.30,513.55 L290.80,506.63 L292.30,499.83 L293.80,493.16 L295.30,486.68 L296.80,480.41 L298.30,474.39 L299.80,468.68 L301.30,463.31 L302.80,458.32 L304.30,453.70 L305.80,449.45 L307.30,445.56 L308.80,442.02 L310.30,438.82 L311.80,436.00 L313.30,433.56 L314.80,431.54 L316.30,429.93 L317.80,428.75 L319.30,427.99 L320.80,427.64 L322.30,427.70 L323.80,428.13 L325.30,428.92 L326.80,430.04 L328.30,431.44 L329.80,433.12 L331.30,435.02 L332.80,437.13 L334.30,439.43 L335.80,441.88 L337.30,444.45 L338.80,447.11 L340.30,449.83 L341.80,452.57 L343.30,455.33 L344.80,458.08 L346.30,460.81 L347.80,463.48 L349.30,466.10 L350.80,468.65 L352.30,471.10 L353.80,473.45 L355.30,475.73 L356.80,477.97 L358.30,480.20 L359.80,482.48 L361.30,484.85 L362.80,487.32 L364.30,489.94 L365.80,492.70 L367.30,495.62 L368.80,498.67 L370.30,501.85 L371.80,505.14 L373.30,508.54 L374.80,512.03 L376.30,515.60 L377.80,519.22 L379.30,522.89 L380.80,526.60 L382.30,530.35 L383.80,534.14 L385.30,537.95 L386.80,541.76 L388.30,545.59 L389.80,549.42 L391.30,553.27 L392.80,557.12 L394.30,560.97 L395.80,564.82 L397.30,568.64 L398.80,572.41 L400.30,576.11 L401.80,579.71 L403.30,583.19 L404.80,586.53 L406.30,589.71 L407.80,592.74 L409.30,595.61 L410.80,598.33 L412.30,600.90 L413.80,603.31 L415.30,605.57 L416.80,607.69 L418.30,609.67 L419.80,611.53 L421.30,613.27 L422.80,614.90 L424.30,616.43 L425.80,617.85 L427.30,619.17 L428.80,620.39 L430.30,621.52 L431.80,622.57 L433.30,623.53 L434.80,624.41 L436.30,625.23 L437.80,625.99 L439.30,626.70 L440.80,627.36 L442.30,627.98 L443.80,628.58 L445.30,629.14 L446.80,629.69 L448.30,630.22 L449.80,630.74 L451.30,631.25 L452.80,631.77 L454.30,632.29 L455.80,632.82 L457.30,633.38 L458.80,633.94 L460.30,634.52 L461.80,635.11 L463.30,635.70 L464.80,636.31 L466.30,636.91 L467.80,637.52 L469.30,638.13 L470.80,638.74 L472.30,639.33 L473.80,639.90 L475.30,640.45 L476.80,640.96 L478.30,641.43 L479.80,641.87 L481.30,642.26 L482.80,642.61 L484.30,642.93 L485.80,643.21 L487.30,643.46 L488.80,643.68 L490.30,643.87 L491.80,644.04 L493.30,644.20 L494.80,644.34 L496.30,644.48 L497.80,644.62 L499.30,644.76 L500.80,644.91 L502.30,645.04 L503.80,645.18 L505.30,645.31 L506.80,645.44 L508.30,645.56 L509.80,645.67 L511.30,645.78 L512.80,645.88 L514.30,645.98 L515.80,646.07 L517.30,646.15 L518.80,646.22 L520.30,646.29 L521.80,646.35 L523.30,646.40 L524.80,646.45 L526.30,646.50 L527.80,646.54 L529.30,646.58 L530.80,646.62 L532.30,646.66 L533.80,646.70 L535.30,646.75 L536.80,646.79 L538.30,646.83 L539.80,646.86 L541.30,646.90 L542.80,646.93 L544.30,646.96 L545.80,646.98 L547.30,647.00 L548.80,647.01 L550.30,647.01 L551.80,647.02 L553.30,647.02 L554.80,647.02 L556.30,647.02 L557.80,647.02 L559.30,647.02 L560.80,647.02 L562.30,647.02 L563.80,647.02 L565.30,647.02 L566.80,647.02 L568.30,647.02 L569.80,647.02 L571.30,647.02 L572.80,647.02 L574.30,647.02 L575.80,647.03 L577.30,647.03 L578.80,647.03 L580.30,647.03 L581.80,647.03 L583.30,647.03 L584.80,647.03 L586.30,647.04 L587.80,647.04 L589.30,647.04 L590.80,647.04 L592.30,647.04 L593.80,647.04 L595.30,647.04 L596.80,647.04 L598.30,647.05 L599.80,647.05 L601.30,647.05 L602.80,647.05 L604.30,647.05 L605.80,647.05 L607.30,647.05 L608.80,647.06 L610.30,647.06 L611.80,647.06 L613.30,647.06 L614.80,647.06 L616.30,647.06 L617.80,647.06 L619.30,647.06 L620.80,647.07 L622.30,647.07 L623.80,647.07 L625.30,647.07 L626.80,647.07 L628.30,647.07 L629.80,647.07 L631.30,647.07 L632.80,647.08 L634.30,647.08 L635.80,647.08 L637.30,647.08 L638.80,647.08 L640.30,647.08 L641.80,647.08 L643.30,647.08 L644.80,647.09 L646.30,647.09 L647.80,647.09 L649.30,647.09 L650.80,647.09 L652.30,647.09 L653.80,647.09 L655.30,647.10 L656.80,647.10 L658.30,647.10 L659.80,647.10 L660.80,647.10 L660.80,647.10 L104.80,647.10 Z" fill="rgba(178,223,230,0.75)" stroke="none"/>
<path d="M104.80,647.10 L106.30,647.09 L107.80,647.09 L109.30,647.08 L110.80,647.08 L112.30,647.08 L113.80,647.07 L115.30,647.07 L116.80,647.07 L118.30,647.07 L119.80,647.06 L121.30,647.06 L122.80,647.05 L124.30,647.04 L125.80,647.03 L127.30,647.02 L128.80,646.99 L130.30,646.96 L131.80,646.93 L133.30,646.87 L134.80,646.81 L136.30,646.73 L137.80,646.63 L139.30,646.51 L140.80,646.37 L142.30,646.21 L143.80,646.02 L145.30,645.81 L146.80,645.58 L148.30,645.32 L149.80,645.04 L151.30,644.72 L152.80,644.38 L154.30,644.01 L155.80,643.60 L157.30,643.16 L158.80,642.67 L160.30,642.13 L161.80,641.55 L163.30,640.91 L164.80,640.20 L166.30,639.42 L167.80,638.56 L169.30,637.61 L170.80,636.58 L172.30,635.45 L173.80,634.23 L175.30,632.92 L176.80,631.53 L178.30,630.05 L179.80,628.49 L181.30,626.85 L182.80,625.15 L184.30,623.38 L185.80,621.57 L187.30,619.70 L188.80,617.80 L190.30,615.86 L191.80,613.88 L193.30,611.84 L194.80,609.72 L196.30,607.52 L197.80,605.21 L199.30,602.81 L200.80,600.31 L202.30,597.74 L203.80,595.09 L205.30,592.39 L206.80,589.64 L208.30,586.85 L209.80,584.01 L211.30,581.14 L212.80,578.25 L214.30,575.33 L215.80,572.41 L217.30,569.48 L218.80,566.55 L220.30,563.64 L221.80,560.74 L223.30,557.88 L224.80,555.04 L226.30,552.24 L227.80,549.46 L229.30,546.70 L230.80,543.98 L232.30,541.27 L233.80,538.60 L235.30,535.95 L236.80,533.34 L238.30,530.75 L239.80,528.21 L241.30,525.69 L242.80,523.22 L244.30,520.78 L245.80,518.37 L247.30,515.99 L248.80,513.64 L250.30,511.29 L251.80,508.95 L253.30,506.59 L254.80,504.23 L256.30,501.86 L257.80,499.48 L259.30,497.10 L260.80,494.71 L262.30,492.34 L263.80,489.98 L265.30,487.66 L266.80,485.37 L268.30,483.14 L269.80,480.96 L271.30,478.86 L272.80,476.84 L274.30,474.91 L275.80,473.10 L277.30,471.40 L278.80,469.84 L280.30,468.43 L281.80,467.20 L283.30,466.14 L284.80,465.30 L286.30,464.67 L287.80,464.26 L289.30,464.08 L290.80,464.14 L292.30,464.45 L293.80,465.00 L295.30,465.80 L296.80,466.86 L298.30,468.16 L299.80,469.71 L301.30,471.50 L302.80,473.54 L304.30,475.82 L305.80,478.33 L307.30,481.09 L308.80,484.07 L310.30,487.27 L311.80,490.69 L313.30,494.32 L314.80,498.15 L316.30,502.17 L317.80,506.37 L319.30,510.72 L320.80,515.19 L322.30,519.74 L323.80,524.31 L325.30,528.84 L326.80,533.29 L328.30,537.62 L329.80,541.79 L331.30,545.76 L332.80,549.54 L334.30,553.12 L335.80,556.50 L337.30,559.69 L338.80,562.70 L340.30,565.54 L341.80,568.24 L343.30,570.79 L344.80,573.22 L346.30,575.52 L347.80,577.70 L349.30,579.76 L350.80,581.70 L352.30,583.53 L353.80,585.23 L355.30,586.83 L356.80,588.33 L358.30,589.73 L359.80,591.05 L361.30,592.31 L362.80,593.52 L364.30,594.70 L365.80,595.86 L367.30,597.01 L368.80,598.14 L370.30,599.27 L371.80,600.39 L373.30,601.51 L374.80,602.63 L376.30,603.74 L377.80,604.86 L379.30,606.00 L380.80,607.16 L382.30,608.35 L383.80,609.56 L385.30,610.80 L386.80,612.05 L388.30,613.29 L389.80,614.52 L391.30,615.72 L392.80,616.88 L394.30,618.00 L395.80,619.07 L397.30,620.10 L398.80,621.09 L400.30,622.05 L401.80,622.98 L403.30,623.88 L404.80,624.75 L406.30,625.60 L407.80,626.43 L409.30,627.23 L410.80,628.01 L412.30,628.77 L413.80,629.51 L415.30,630.22 L416.80,630.90 L418.30,631.56 L419.80,632.19 L421.30,632.79 L422.80,633.37 L424.30,633.92 L425.80,634.45 L427.30,634.95 L428.80,635.42 L430.30,635.87 L431.80,636.30 L433.30,636.70 L434.80,637.08 L436.30,637.43 L437.80,637.77 L439.30,638.11 L440.80,638.43 L442.30,638.76 L443.80,639.09 L445.30,639.42 L446.80,639.77 L448.30,640.12 L449.80,640.49 L451.30,640.86 L452.80,641.24 L454.30,641.61 L455.80,641.97 L457.30,642.31 L458.80,642.65 L460.30,642.97 L461.80,643.28 L463.30,643.57 L464.80,643.85 L466.30,644.11 L467.80,644.36 L469.30,644.59 L470.80,644.80 L472.30,645.00 L473.80,645.19 L475.30,645.36 L476.80,645.53 L478.30,645.68 L479.80,645.82 L481.30,645.95 L482.80,646.07 L484.30,646.18 L485.80,646.29 L487.30,646.38 L488.80,646.47 L490.30,646.54 L491.80,646.62 L493.30,646.68 L494.80,646.74 L496.30,646.79 L497.80,646.83 L499.30,646.87 L500.80,646.91 L502.30,646.93 L503.80,646.96 L505.30,646.98 L506.80,646.99 L508.30,647.01 L509.80,647.02 L511.30,647.04 L512.80,647.05 L514.30,647.06 L515.80,647.07 L517.30,647.08 L518.80,647.09 L520.30,647.09 L521.80,647.10 L523.30,647.10 L524.80,647.10 L526.30,647.10 L527.80,647.10 L529.30,647.10 L530.80,647.10 L532.30,647.10 L533.80,647.10 L535.30,647.10 L536.80,647.10 L538.30,647.10 L539.80,647.10 L541.30,647.10 L542.80,647.10 L544.30,647.10 L545.80,647.10 L547.30,647.10 L548.80,647.10 L550.30,647.10 L551.80,647.10 L553.30,647.10 L554.80,647.10 L556.30,647.10 L557.80,647.10 L559.30,647.10 L560.80,647.10 L562.30,647.10 L563.80,647.10 L565.30,647.10 L566.80,647.10 L568.30,647.10 L569.80,647.10 L571.30,647.10 L572.80,647.10 L574.30,647.10 L575.80,647.10 L577.30,647.10 L578.80,647.10 L580.30,647.10 L581.80,647.10 L583.30,647.10 L584.80,647.10 L586.30,647.10 L587.80,647.10 L589.30,647.10 L590.80,647.10 L592.30,647.10 L593.80,647.10 L595.30,647.10 L596.80,647.10 L598.30,647.10 L599.80,647.10 L601.30,647.10 L602.80,647.10 L604.30,647.10 L605.80,647.10 L607.30,647.10 L608.80,647.10 L610.30,647.10 L611.80,647.10 L613.30,647.10 L614.80,647.10 L616.30,647.10 L617.80,647.10 L619.30,647.10 L620.80,647.10 L622.30,647.10 L623.80,647.10 L625.30,647.10 L626.80,647.10 L628.30,647.10 L629.80,647.10 L631.30,647.10 L632.80,647.10 L634.30,647.10 L635.80,647.10 L637.30,647.10 L638.80,647.10 L640.30,647.10 L641.80,647.10 L643.30,647.10 L644.80,647.10 L646.30,647.10 L647.80,647.10 L649.30,647.10 L650.80,647.10 L652.30,647.10 L653.80,647.10 L655.30,647.10 L656.80,647.10 L658.30,647.10 L659.80,647.10 L660.80,647.10 L660.80,647.10 L104.80,647.10 Z" fill="rgba(254,181,192,0.74)" stroke="none"/>
<clipPath id="clipb"><rect x="104.80" y="390.00" width="556.00" height="267.10"/></clipPath>
<g clip-path="url(#clipb)">
<path d="M104.80,647.10 L106.30,647.10 L107.80,647.10 L109.30,647.10 L110.80,647.09 L112.30,647.09 L113.80,647.09 L115.30,647.09 L116.80,647.09 L118.30,647.09 L119.80,647.09 L121.30,647.09 L122.80,647.08 L124.30,647.08 L125.80,647.08 L127.30,647.08 L128.80,647.08 L130.30,647.08 L131.80,647.08 L133.30,647.08 L134.80,647.07 L136.30,647.07 L137.80,647.07 L139.30,647.07 L140.80,647.07 L142.30,647.07 L143.80,647.07 L145.30,647.06 L146.80,647.06 L148.30,647.06 L149.80,647.06 L151.30,647.06 L152.80,647.06 L154.30,647.06 L155.80,647.06 L157.30,647.05 L158.80,647.05 L160.30,647.05 L161.80,647.05 L163.30,647.05 L164.80,647.05 L166.30,647.05 L167.80,647.05 L169.30,647.04 L170.80,647.04 L172.30,647.04 L173.80,647.04 L175.30,647.04 L176.80,647.04 L178.30,647.04 L179.80,647.03 L181.30,647.03 L182.80,647.03 L184.30,647.03 L185.80,647.03 L187.30,647.03 L188.80,647.03 L190.30,647.02 L191.80,647.02 L193.30,647.02 L194.80,647.02 L196.30,647.02 L197.80,647.02 L199.30,647.02 L200.80,647.02 L202.30,647.02 L203.80,647.02 L205.30,647.02 L206.80,647.02 L208.30,647.03 L209.80,647.03 L211.30,647.04 L212.80,647.04 L214.30,647.05 L215.80,647.06 L217.30,647.06 L218.80,647.06 L220.30,647.06 L221.80,647.05 L223.30,647.03 L224.80,647.01 L226.30,646.97 L227.80,646.91 L229.30,646.83 L230.80,646.72 L232.30,646.59 L233.80,646.43 L235.30,646.24 L236.80,646.01 L238.30,645.76 L239.80,645.48 L241.30,645.17 L242.80,644.85 L244.30,644.52 L245.80,644.18 L247.30,643.84 L248.80,643.49 L250.30,643.15 L251.80,642.81 L253.30,642.48 L254.80,642.15 L256.30,641.81 L257.80,641.48 L259.30,641.14 L260.80,640.78 L262.30,640.42 L263.80,640.02 L265.30,639.59 L266.80,639.13 L268.30,638.61 L269.80,638.04 L271.30,637.41 L272.80,636.69 L274.30,635.90 L275.80,635.01 L277.30,634.01 L278.80,632.90 L280.30,631.67 L281.80,630.30 L283.30,628.79 L284.80,627.12 L286.30,625.29 L287.80,623.30 L289.30,621.16 L290.80,618.87 L292.30,616.43 L293.80,613.85 L295.30,611.17 L296.80,608.40 L298.30,605.58 L299.80,602.72 L301.30,599.87 L302.80,597.02 L304.30,594.19 L305.80,591.38 L307.30,588.60 L308.80,585.84 L310.30,583.11 L311.80,580.40 L313.30,577.71 L314.80,575.01 L316.30,572.31 L317.80,569.58 L319.30,566.83 L320.80,564.05 L322.30,561.24 L323.80,558.39 L325.30,555.51 L326.80,552.59 L328.30,549.63 L329.80,546.63 L331.30,543.58 L332.80,540.46 L334.30,537.27 L335.80,534.02 L337.30,530.71 L338.80,527.36 L340.30,523.98 L341.80,520.58 L343.30,517.20 L344.80,513.83 L346.30,510.50 L347.80,507.21 L349.30,503.97 L350.80,500.79 L352.30,497.68 L353.80,494.65 L355.30,491.71 L356.80,488.87 L358.30,486.13 L359.80,483.49 L361.30,480.95 L362.80,478.49 L364.30,476.10 L365.80,473.77 L367.30,471.50 L368.80,469.30 L370.30,467.16 L371.80,465.09 L373.30,463.08 L374.80,461.13 L376.30,459.26 L377.80,457.48 L379.30,455.81 L380.80,454.26 L382.30,452.87 L383.80,451.65 L385.30,450.64 L386.80,449.85 L388.30,449.30 L389.80,449.03 L391.30,449.04 L392.80,449.35 L394.30,449.98 L395.80,450.94 L397.30,452.25 L398.80,453.90 L400.30,455.90 L401.80,458.26 L403.30,460.96 L404.80,463.98 L406.30,467.28 L407.80,470.84 L409.30,474.61 L410.80,478.54 L412.30,482.59 L413.80,486.70 L415.30,490.84 L416.80,494.98 L418.30,499.10 L419.80,503.19 L421.30,507.22 L422.80,511.21 L424.30,515.14 L425.80,519.03 L427.30,522.87 L428.80,526.69 L430.30,530.48 L431.80,534.23 L433.30,537.95 L434.80,541.62 L436.30,545.24 L437.80,548.81 L439.30,552.31 L440.80,555.76 L442.30,559.14 L443.80,562.46 L445.30,565.73 L446.80,568.95 L448.30,572.10 L449.80,575.20 L451.30,578.25 L452.80,581.25 L454.30,584.20 L455.80,587.12 L457.30,590.01 L458.80,592.86 L460.30,595.67 L461.80,598.43 L463.30,601.12 L464.80,603.75 L466.30,606.31 L467.80,608.78 L469.30,611.18 L470.80,613.49 L472.30,615.72 L473.80,617.86 L475.30,619.91 L476.80,621.86 L478.30,623.72 L479.80,625.48 L481.30,627.15 L482.80,628.73 L484.30,630.21 L485.80,631.59 L487.30,632.87 L488.80,634.06 L490.30,635.15 L491.80,636.14 L493.30,637.04 L494.80,637.86 L496.30,638.59 L497.80,639.26 L499.30,639.85 L500.80,640.39 L502.30,640.86 L503.80,641.28 L505.30,641.65 L506.80,641.97 L508.30,642.26 L509.80,642.51 L511.30,642.73 L512.80,642.92 L514.30,643.09 L515.80,643.25 L517.30,643.40 L518.80,643.54 L520.30,643.67 L521.80,643.79 L523.30,643.91 L524.80,644.03 L526.30,644.14 L527.80,644.25 L529.30,644.35 L530.80,644.46 L532.30,644.55 L533.80,644.65 L535.30,644.74 L536.80,644.82 L538.30,644.90 L539.80,644.98 L541.30,645.05 L542.80,645.11 L544.30,645.17 L545.80,645.23 L547.30,645.28 L548.80,645.34 L550.30,645.39 L551.80,645.44 L553.30,645.49 L554.80,645.54 L556.30,645.59 L557.80,645.65 L559.30,645.70 L560.80,645.76 L562.30,645.82 L563.80,645.87 L565.30,645.93 L566.80,645.99 L568.30,646.05 L569.80,646.11 L571.30,646.17 L572.80,646.23 L574.30,646.28 L575.80,646.33 L577.30,646.38 L578.80,646.43 L580.30,646.47 L581.80,646.51 L583.30,646.54 L584.80,646.57 L586.30,646.60 L587.80,646.63 L589.30,646.65 L590.80,646.67 L592.30,646.70 L593.80,646.72 L595.30,646.74 L596.80,646.76 L598.30,646.78 L599.80,646.80 L601.30,646.83 L602.80,646.85 L604.30,646.87 L605.80,646.89 L607.30,646.92 L608.80,646.94 L610.30,646.96 L611.80,646.98 L613.30,647.00 L614.80,647.02 L616.30,647.04 L617.80,647.06 L619.30,647.07 L620.80,647.08 L622.30,647.09 L623.80,647.10 L625.30,647.10 L626.80,647.10 L628.30,647.10 L629.80,647.10 L631.30,647.10 L632.80,647.10 L634.30,647.10 L635.80,647.10 L637.30,647.10 L638.80,647.10 L640.30,647.10 L641.80,647.10 L643.30,647.10 L644.80,647.10 L646.30,647.10 L647.80,647.10 L649.30,647.10 L650.80,647.10 L652.30,647.10 L653.80,647.10 L655.30,647.10 L656.80,647.10 L658.30,647.10 L659.80,647.10 L660.80,647.10" fill="none" stroke="#4f4f4f" stroke-width="5.00" stroke-linejoin="round" stroke-linecap="round"/>
<path d="M104.80,647.10 L106.30,647.10 L107.80,647.10 L109.30,647.10 L110.80,647.09 L112.30,647.09 L113.80,647.09 L115.30,647.09 L116.80,647.09 L118.30,647.09 L119.80,647.08 L121.30,647.08 L122.80,647.08 L124.30,647.08 L125.80,647.08 L127.30,647.08 L128.80,647.07 L130.30,647.07 L131.80,647.07 L133.30,647.07 L134.80,647.07 L136.30,647.07 L137.80,647.07 L139.30,647.06 L140.80,647.06 L142.30,647.06 L143.80,647.06 L145.30,647.06 L146.80,647.06 L148.30,647.05 L149.80,647.05 L151.30,647.05 L152.80,647.05 L154.30,647.05 L155.80,647.05 L157.30,647.04 L158.80,647.04 L160.30,647.04 L161.80,647.04 L163.30,647.04 L164.80,647.04 L166.30,647.04 L167.80,647.03 L169.30,647.03 L170.80,647.03 L172.30,647.03 L173.80,647.03 L175.30,647.03 L176.80,647.02 L178.30,647.02 L179.80,647.02 L181.30,647.02 L182.80,647.02 L184.30,647.02 L185.80,647.02 L187.30,647.02 L188.80,647.02 L190.30,647.02 L191.80,647.02 L193.30,647.01 L194.80,647.01 L196.30,647.00 L197.80,647.00 L199.30,646.98 L200.80,646.97 L202.30,646.95 L203.80,646.92 L205.30,646.90 L206.80,646.87 L208.30,646.84 L209.80,646.81 L211.30,646.78 L212.80,646.76 L214.30,646.73 L215.80,646.71 L217.30,646.70 L218.80,646.68 L220.30,646.67 L221.80,646.65 L223.30,646.63 L224.80,646.61 L226.30,646.58 L227.80,646.53 L229.30,646.47 L230.80,646.36 L232.30,646.22 L233.80,646.03 L235.30,645.78 L236.80,645.46 L238.30,645.06 L239.80,644.57 L241.30,643.99 L242.80,643.30 L244.30,642.48 L245.80,641.53 L247.30,640.41 L248.80,639.12 L250.30,637.64 L251.80,635.96 L253.30,634.07 L254.80,631.96 L256.30,629.61 L257.80,627.02 L259.30,624.18 L260.80,621.08 L262.30,617.71 L263.80,614.07 L265.30,610.15 L266.80,605.96 L268.30,601.51 L269.80,596.81 L271.30,591.82 L272.80,586.50 L274.30,580.82 L275.80,574.82 L277.30,568.56 L278.80,562.07 L280.30,555.39 L281.80,548.58 L283.30,541.66 L284.80,534.65 L286.30,527.60 L287.80,520.55 L289.30,513.55 L290.80,506.63 L292.30,499.83 L293.80,493.16 L295.30,486.68 L296.80,480.41 L298.30,474.39 L299.80,468.68 L301.30,463.31 L302.80,458.32 L304.30,453.70 L305.80,449.45 L307.30,445.56 L308.80,442.02 L310.30,438.82 L311.80,436.00 L313.30,433.56 L314.80,431.54 L316.30,429.93 L317.80,428.75 L319.30,427.99 L320.80,427.64 L322.30,427.70 L323.80,428.13 L325.30,428.92 L326.80,430.04 L328.30,431.44 L329.80,433.12 L331.30,435.02 L332.80,437.13 L334.30,439.43 L335.80,441.88 L337.30,444.45 L338.80,447.11 L340.30,449.83 L341.80,452.57 L343.30,455.33 L344.80,458.08 L346.30,460.81 L347.80,463.48 L349.30,466.10 L350.80,468.65 L352.30,471.10 L353.80,473.45 L355.30,475.73 L356.80,477.97 L358.30,480.20 L359.80,482.48 L361.30,484.85 L362.80,487.32 L364.30,489.94 L365.80,492.70 L367.30,495.62 L368.80,498.67 L370.30,501.85 L371.80,505.14 L373.30,508.54 L374.80,512.03 L376.30,515.60 L377.80,519.22 L379.30,522.89 L380.80,526.60 L382.30,530.35 L383.80,534.14 L385.30,537.95 L386.80,541.76 L388.30,545.59 L389.80,549.42 L391.30,553.27 L392.80,557.12 L394.30,560.97 L395.80,564.82 L397.30,568.64 L398.80,572.41 L400.30,576.11 L401.80,579.71 L403.30,583.19 L404.80,586.53 L406.30,589.71 L407.80,592.74 L409.30,595.61 L410.80,598.33 L412.30,600.90 L413.80,603.31 L415.30,605.57 L416.80,607.69 L418.30,609.67 L419.80,611.53 L421.30,613.27 L422.80,614.90 L424.30,616.43 L425.80,617.85 L427.30,619.17 L428.80,620.39 L430.30,621.52 L431.80,622.57 L433.30,623.53 L434.80,624.41 L436.30,625.23 L437.80,625.99 L439.30,626.70 L440.80,627.36 L442.30,627.98 L443.80,628.58 L445.30,629.14 L446.80,629.69 L448.30,630.22 L449.80,630.74 L451.30,631.25 L452.80,631.77 L454.30,632.29 L455.80,632.82 L457.30,633.38 L458.80,633.94 L460.30,634.52 L461.80,635.11 L463.30,635.70 L464.80,636.31 L466.30,636.91 L467.80,637.52 L469.30,638.13 L470.80,638.74 L472.30,639.33 L473.80,639.90 L475.30,640.45 L476.80,640.96 L478.30,641.43 L479.80,641.87 L481.30,642.26 L482.80,642.61 L484.30,642.93 L485.80,643.21 L487.30,643.46 L488.80,643.68 L490.30,643.87 L491.80,644.04 L493.30,644.20 L494.80,644.34 L496.30,644.48 L497.80,644.62 L499.30,644.76 L500.80,644.91 L502.30,645.04 L503.80,645.18 L505.30,645.31 L506.80,645.44 L508.30,645.56 L509.80,645.67 L511.30,645.78 L512.80,645.88 L514.30,645.98 L515.80,646.07 L517.30,646.15 L518.80,646.22 L520.30,646.29 L521.80,646.35 L523.30,646.40 L524.80,646.45 L526.30,646.50 L527.80,646.54 L529.30,646.58 L530.80,646.62 L532.30,646.66 L533.80,646.70 L535.30,646.75 L536.80,646.79 L538.30,646.83 L539.80,646.86 L541.30,646.90 L542.80,646.93 L544.30,646.96 L545.80,646.98 L547.30,647.00 L548.80,647.01 L550.30,647.01 L551.80,647.02 L553.30,647.02 L554.80,647.02 L556.30,647.02 L557.80,647.02 L559.30,647.02 L560.80,647.02 L562.30,647.02 L563.80,647.02 L565.30,647.02 L566.80,647.02 L568.30,647.02 L569.80,647.02 L571.30,647.02 L572.80,647.02 L574.30,647.02 L575.80,647.03 L577.30,647.03 L578.80,647.03 L580.30,647.03 L581.80,647.03 L583.30,647.03 L584.80,647.03 L586.30,647.04 L587.80,647.04 L589.30,647.04 L590.80,647.04 L592.30,647.04 L593.80,647.04 L595.30,647.04 L596.80,647.04 L598.30,647.05 L599.80,647.05 L601.30,647.05 L602.80,647.05 L604.30,647.05 L605.80,647.05 L607.30,647.05 L608.80,647.06 L610.30,647.06 L611.80,647.06 L613.30,647.06 L614.80,647.06 L616.30,647.06 L617.80,647.06 L619.30,647.06 L620.80,647.07 L622.30,647.07 L623.80,647.07 L625.30,647.07 L626.80,647.07 L628.30,647.07 L629.80,647.07 L631.30,647.07 L632.80,647.08 L634.30,647.08 L635.80,647.08 L637.30,647.08 L638.80,647.08 L640.30,647.08 L641.80,647.08 L643.30,647.08 L644.80,647.09 L646.30,647.09 L647.80,647.09 L649.30,647.09 L650.80,647.09 L652.30,647.09 L653.80,647.09 L655.30,647.10 L656.80,647.10 L658.30,647.10 L659.80,647.10 L660.80,647.10" fill="none" stroke="#0000cd" stroke-width="5.00" stroke-linejoin="round" stroke-linecap="round"/>
<path d="M104.80,647.10 L106.30,647.09 L107.80,647.09 L109.30,647.08 L110.80,647.08 L112.30,647.08 L113.80,647.07 L115.30,647.07 L116.80,647.07 L118.30,647.07 L119.80,647.06 L121.30,647.06 L122.80,647.05 L124.30,647.04 L125.80,647.03 L127.30,647.02 L128.80,646.99 L130.30,646.96 L131.80,646.93 L133.30,646.87 L134.80,646.81 L136.30,646.73 L137.80,646.63 L139.30,646.51 L140.80,646.37 L142.30,646.21 L143.80,646.02 L145.30,645.81 L146.80,645.58 L148.30,645.32 L149.80,645.04 L151.30,644.72 L152.80,644.38 L154.30,644.01 L155.80,643.60 L157.30,643.16 L158.80,642.67 L160.30,642.13 L161.80,641.55 L163.30,640.91 L164.80,640.20 L166.30,639.42 L167.80,638.56 L169.30,637.61 L170.80,636.58 L172.30,635.45 L173.80,634.23 L175.30,632.92 L176.80,631.53 L178.30,630.05 L179.80,628.49 L181.30,626.85 L182.80,625.15 L184.30,623.38 L185.80,621.57 L187.30,619.70 L188.80,617.80 L190.30,615.86 L191.80,613.88 L193.30,611.84 L194.80,609.72 L196.30,607.52 L197.80,605.21 L199.30,602.81 L200.80,600.31 L202.30,597.74 L203.80,595.09 L205.30,592.39 L206.80,589.64 L208.30,586.85 L209.80,584.01 L211.30,581.14 L212.80,578.25 L214.30,575.33 L215.80,572.41 L217.30,569.48 L218.80,566.55 L220.30,563.64 L221.80,560.74 L223.30,557.88 L224.80,555.04 L226.30,552.24 L227.80,549.46 L229.30,546.70 L230.80,543.98 L232.30,541.27 L233.80,538.60 L235.30,535.95 L236.80,533.34 L238.30,530.75 L239.80,528.21 L241.30,525.69 L242.80,523.22 L244.30,520.78 L245.80,518.37 L247.30,515.99 L248.80,513.64 L250.30,511.29 L251.80,508.95 L253.30,506.59 L254.80,504.23 L256.30,501.86 L257.80,499.48 L259.30,497.10 L260.80,494.71 L262.30,492.34 L263.80,489.98 L265.30,487.66 L266.80,485.37 L268.30,483.14 L269.80,480.96 L271.30,478.86 L272.80,476.84 L274.30,474.91 L275.80,473.10 L277.30,471.40 L278.80,469.84 L280.30,468.43 L281.80,467.20 L283.30,466.14 L284.80,465.30 L286.30,464.67 L287.80,464.26 L289.30,464.08 L290.80,464.14 L292.30,464.45 L293.80,465.00 L295.30,465.80 L296.80,466.86 L298.30,468.16 L299.80,469.71 L301.30,471.50 L302.80,473.54 L304.30,475.82 L305.80,478.33 L307.30,481.09 L308.80,484.07 L310.30,487.27 L311.80,490.69 L313.30,494.32 L314.80,498.15 L316.30,502.17 L317.80,506.37 L319.30,510.72 L320.80,515.19 L322.30,519.74 L323.80,524.31 L325.30,528.84 L326.80,533.29 L328.30,537.62 L329.80,541.79 L331.30,545.76 L332.80,549.54 L334.30,553.12 L335.80,556.50 L337.30,559.69 L338.80,562.70 L340.30,565.54 L341.80,568.24 L343.30,570.79 L344.80,573.22 L346.30,575.52 L347.80,577.70 L349.30,579.76 L350.80,581.70 L352.30,583.53 L353.80,585.23 L355.30,586.83 L356.80,588.33 L358.30,589.73 L359.80,591.05 L361.30,592.31 L362.80,593.52 L364.30,594.70 L365.80,595.86 L367.30,597.01 L368.80,598.14 L370.30,599.27 L371.80,600.39 L373.30,601.51 L374.80,602.63 L376.30,603.74 L377.80,604.86 L379.30,606.00 L380.80,607.16 L382.30,608.35 L383.80,609.56 L385.30,610.80 L386.80,612.05 L388.30,613.29 L389.80,614.52 L391.30,615.72 L392.80,616.88 L394.30,618.00 L395.80,619.07 L397.30,620.10 L398.80,621.09 L400.30,622.05 L401.80,622.98 L403.30,623.88 L404.80,624.75 L406.30,625.60 L407.80,626.43 L409.30,627.23 L410.80,628.01 L412.30,628.77 L413.80,629.51 L415.30,630.22 L416.80,630.90 L418.30,631.56 L419.80,632.19 L421.30,632.79 L422.80,633.37 L424.30,633.92 L425.80,634.45 L427.30,634.95 L428.80,635.42 L430.30,635.87 L431.80,636.30 L433.30,636.70 L434.80,637.08 L436.30,637.43 L437.80,637.77 L439.30,638.11 L440.80,638.43 L442.30,638.76 L443.80,639.09 L445.30,639.42 L446.80,639.77 L448.30,640.12 L449.80,640.49 L451.30,640.86 L452.80,641.24 L454.30,641.61 L455.80,641.97 L457.30,642.31 L458.80,642.65 L460.30,642.97 L461.80,643.28 L463.30,643.57 L464.80,643.85 L466.30,644.11 L467.80,644.36 L469.30,644.59 L470.80,644.80 L472.30,645.00 L473.80,645.19 L475.30,645.36 L476.80,645.53 L478.30,645.68 L479.80,645.82 L481.30,645.95 L482.80,646.07 L484.30,646.18 L485.80,646.29 L487.30,646.38 L488.80,646.47 L490.30,646.54 L491.80,646.62 L493.30,646.68 L494.80,646.74 L496.30,646.79 L497.80,646.83 L499.30,646.87 L500.80,646.91 L502.30,646.93 L503.80,646.96 L505.30,646.98 L506.80,646.99 L508.30,647.01 L509.80,647.02 L511.30,647.04 L512.80,647.05 L514.30,647.06 L515.80,647.07 L517.30,647.08 L518.80,647.09 L520.30,647.09 L521.80,647.10 L523.30,647.10 L524.80,647.10 L526.30,647.10 L527.80,647.10 L529.30,647.10 L530.80,647.10 L532.30,647.10 L533.80,647.10 L535.30,647.10 L536.80,647.10 L538.30,647.10 L539.80,647.10 L541.30,647.10 L542.80,647.10 L544.30,647.10 L545.80,647.10 L547.30,647.10 L548.80,647.10 L550.30,647.10 L551.80,647.10 L553.30,647.10 L554.80,647.10 L556.30,647.10 L557.80,647.10 L559.30,647.10 L560.80,647.10 L562.30,647.10 L563.80,647.10 L565.30,647.10 L566.80,647.10 L568.30,647.10 L569.80,647.10 L571.30,647.10 L572.80,647.10 L574.30,647.10 L575.80,647.10 L577.30,647.10 L578.80,647.10 L580.30,647.10 L581.80,647.10 L583.30,647.10 L584.80,647.10 L586.30,647.10 L587.80,647.10 L589.30,647.10 L590.80,647.10 L592.30,647.10 L593.80,647.10 L595.30,647.10 L596.80,647.10 L598.30,647.10 L599.80,647.10 L601.30,647.10 L602.80,647.10 L604.30,647.10 L605.80,647.10 L607.30,647.10 L608.80,647.10 L610.30,647.10 L611.80,647.10 L613.30,647.10 L614.80,647.10 L616.30,647.10 L617.80,647.10 L619.30,647.10 L620.80,647.10 L622.30,647.10 L623.80,647.10 L625.30,647.10 L626.80,647.10 L628.30,647.10 L629.80,647.10 L631.30,647.10 L632.80,647.10 L634.30,647.10 L635.80,647.10 L637.30,647.10 L638.80,647.10 L640.30,647.10 L641.80,647.10 L643.30,647.10 L644.80,647.10 L646.30,647.10 L647.80,647.10 L649.30,647.10 L650.80,647.10 L652.30,647.10 L653.80,647.10 L655.30,647.10 L656.80,647.10 L658.30,647.10 L659.80,647.10 L660.80,647.10" fill="none" stroke="#ff4500" stroke-width="5.00" stroke-linejoin="round" stroke-linecap="round"/>
</g>
<path d="M160.40,647.10V661.10M160.40,400.00V386.00M271.60,647.10V661.10M271.60,400.00V386.00M382.80,647.10V661.10M382.80,400.00V386.00M494.00,647.10V661.10M494.00,400.00V386.00M605.20,647.10V661.10M605.20,400.00V386.00M104.80,647.10H90.80M660.80,647.10H674.80M104.80,605.92H90.80M660.80,605.92H674.80M104.80,564.73H90.80M660.80,564.73H674.80M104.80,523.55H90.80M660.80,523.55H674.80M104.80,482.37H90.80M660.80,482.37H674.80M104.80,441.18H90.80M660.80,441.18H674.80M104.80,400.00H90.80M660.80,400.00H674.80" stroke="#000" stroke-width="1.6" fill="none"/>
<path d="M104.80,647.10V654.10M104.80,400.00V393.00M132.60,647.10V654.10M132.60,400.00V393.00M188.20,647.10V654.10M188.20,400.00V393.00M216.00,647.10V654.10M216.00,400.00V393.00M243.80,647.10V654.10M243.80,400.00V393.00M299.40,647.10V654.10M299.40,400.00V393.00M327.20,647.10V654.10M327.20,400.00V393.00M355.00,647.10V654.10M355.00,400.00V393.00M410.60,647.10V654.10M410.60,400.00V393.00M438.40,647.10V654.10M438.40,400.00V393.00M466.20,647.10V654.10M466.20,400.00V393.00M521.80,647.10V654.10M521.80,400.00V393.00M549.60,647.10V654.10M549.60,400.00V393.00M577.40,647.10V654.10M577.40,400.00V393.00M633.00,647.10V654.10M633.00,400.00V393.00M660.80,647.10V654.10M660.80,400.00V393.00M104.80,638.86H97.80M660.80,638.86H667.80M104.80,630.63H97.80M660.80,630.63H667.80M104.80,622.39H97.80M660.80,622.39H667.80M104.80,614.15H97.80M660.80,614.15H667.80M104.80,597.68H97.80M660.80,597.68H667.80M104.80,589.44H97.80M660.80,589.44H667.80M104.80,581.21H97.80M660.80,581.21H667.80M104.80,572.97H97.80M660.80,572.97H667.80M104.80,556.50H97.80M660.80,556.50H667.80M104.80,548.26H97.80M660.80,548.26H667.80M104.80,540.02H97.80M660.80,540.02H667.80M104.80,531.79H97.80M660.80,531.79H667.80M104.80,515.31H97.80M660.80,515.31H667.80M104.80,507.08H97.80M660.80,507.08H667.80M104.80,498.84H97.80M660.80,498.84H667.80M104.80,490.60H97.80M660.80,490.60H667.80M104.80,474.13H97.80M660.80,474.13H667.80M104.80,465.89H97.80M660.80,465.89H667.80M104.80,457.66H97.80M660.80,457.66H667.80M104.80,449.42H97.80M660.80,449.42H667.80M104.80,432.95H97.80M660.80,432.95H667.80M104.80,424.71H97.80M660.80,424.71H667.80M104.80,416.47H97.80M660.80,416.47H667.80M104.80,408.24H97.80M660.80,408.24H667.80" stroke="#1a1a1a" stroke-width="1.2" fill="none"/>
<rect x="104.80" y="400.00" width="556.00" height="247.10" fill="none" stroke="#000" stroke-width="2.00"/>
<text x="160.40" y="689.50" text-anchor="middle" class="t">-80</text>
<text x="271.60" y="689.50" text-anchor="middle" class="t">-40</text>
<text x="382.80" y="689.50" text-anchor="middle" class="t">0</text>
<text x="494.00" y="689.50" text-anchor="middle" class="t">40</text>
<text x="605.20" y="689.50" text-anchor="middle" class="t">80</text>
<text x="78.80" y="654.80" text-anchor="end" class="t">0.000</text>
<text x="78.80" y="613.62" text-anchor="end" class="t">0.005</text>
<text x="78.80" y="572.43" text-anchor="end" class="t">0.010</text>
<text x="78.80" y="531.25" text-anchor="end" class="t">0.015</text>
<text x="78.80" y="490.07" text-anchor="end" class="t">0.020</text>
<text x="78.80" y="448.88" text-anchor="end" class="t">0.025</text>
<text x="78.80" y="407.70" text-anchor="end" class="t">0.030</text>
<text x="104.20" y="384.60" class="ti" textLength="180.0" lengthAdjust="spacing"><tspan font-weight="bold">b</tspan> Total soil water</text>
<text x="382.70" y="715.20" text-anchor="middle" class="t" textLength="284.6" lengthAdjust="spacing">Total Soil Water Anomalies [mm]</text>
<text x="0" y="0" transform="translate(14.5,522.65) rotate(-90)" text-anchor="middle" class="t" textLength="148.6" lengthAdjust="spacing">Freq. Distribution</text>
<line x1="454.40" y1="417.90" x2="487.20" y2="417.90" stroke="#4f4f4f" stroke-width="4.2" stroke-linecap="round"/>
<text x="492.20" y="422.50" class="lg">NAT (1960-2015)</text>
<line x1="454.40" y1="435.75" x2="487.20" y2="435.75" stroke="#0000cd" stroke-width="4.2" stroke-linecap="round"/>
<text x="492.20" y="440.35" class="lg">2010-2014 <tspan font-weight="bold">UR</tspan></text>
<line x1="454.40" y1="453.60" x2="487.20" y2="453.60" stroke="#ff4500" stroke-width="4.2" stroke-linecap="round"/>
<text x="492.20" y="458.20" class="lg">2010-2014 <tspan font-weight="bold">AR</tspan></text>
<path d="M104.80,1010.40 L106.30,1010.40 L107.80,1010.40 L109.30,1010.40 L110.80,1010.40 L112.30,1010.40 L113.80,1010.40 L115.30,1010.40 L116.80,1010.40 L118.30,1010.40 L119.80,1010.40 L121.30,1010.40 L122.80,1010.40 L124.30,1010.40 L125.80,1010.40 L127.30,1010.40 L128.80,1010.40 L130.30,1010.40 L131.80,1010.40 L133.30,1010.40 L134.80,1010.40 L136.30,1010.40 L137.80,1010.40 L139.30,1010.40 L140.80,1010.40 L142.30,1010.40 L143.80,1010.40 L145.30,1010.40 L146.80,1010.40 L148.30,1010.40 L149.80,1010.40 L151.30,1010.40 L152.80,1010.40 L154.30,1010.40 L155.80,1010.40 L157.30,1010.40 L158.80,1010.40 L160.30,1010.40 L161.80,1010.40 L163.30,1010.40 L164.80,1010.40 L166.30,1010.39 L167.80,1010.39 L169.30,1010.39 L170.80,1010.39 L172.30,1010.38 L173.80,1010.38 L175.30,1010.38 L176.80,1010.38 L178.30,1010.37 L179.80,1010.37 L181.30,1010.37 L182.80,1010.36 L184.30,1010.36 L185.80,1010.36 L187.30,1010.36 L188.80,1010.35 L190.30,1010.35 L191.80,1010.35 L193.30,1010.35 L194.80,1010.34 L196.30,1010.34 L197.80,1010.34 L199.30,1010.34 L200.80,1010.33 L202.30,1010.33 L203.80,1010.33 L205.30,1010.33 L206.80,1010.33 L208.30,1010.33 L209.80,1010.33 L211.30,1010.33 L212.80,1010.33 L214.30,1010.32 L215.80,1010.32 L217.30,1010.30 L218.80,1010.29 L220.30,1010.26 L221.80,1010.23 L223.30,1010.20 L224.80,1010.15 L226.30,1010.11 L227.80,1010.06 L229.30,1010.01 L230.80,1009.96 L232.30,1009.90 L233.80,1009.85 L235.30,1009.79 L236.80,1009.73 L238.30,1009.66 L239.80,1009.58 L241.30,1009.49 L242.80,1009.40 L244.30,1009.29 L245.80,1009.18 L247.30,1009.06 L248.80,1008.94 L250.30,1008.82 L251.80,1008.69 L253.30,1008.55 L254.80,1008.41 L256.30,1008.26 L257.80,1008.10 L259.30,1007.92 L260.80,1007.72 L262.30,1007.51 L263.80,1007.26 L265.30,1006.97 L266.80,1006.64 L268.30,1006.25 L269.80,1005.80 L271.30,1005.28 L272.80,1004.67 L274.30,1003.99 L275.80,1003.23 L277.30,1002.39 L278.80,1001.47 L280.30,1000.47 L281.80,999.40 L283.30,998.24 L284.80,997.01 L286.30,995.70 L287.80,994.31 L289.30,992.84 L290.80,991.28 L292.30,989.64 L293.80,987.88 L295.30,986.01 L296.80,984.01 L298.30,981.87 L299.80,979.59 L301.30,977.17 L302.80,974.61 L304.30,971.90 L305.80,969.04 L307.30,965.99 L308.80,962.75 L310.30,959.27 L311.80,955.50 L313.30,951.40 L314.80,946.97 L316.30,942.25 L317.80,937.32 L319.30,932.22 L320.80,927.04 L322.30,921.84 L323.80,916.64 L325.30,911.47 L326.80,906.31 L328.30,901.15 L329.80,895.97 L331.30,890.74 L332.80,885.46 L334.30,880.14 L335.80,874.79 L337.30,869.43 L338.80,864.08 L340.30,858.79 L341.80,853.61 L343.30,848.57 L344.80,843.73 L346.30,839.13 L347.80,834.77 L349.30,830.65 L350.80,826.78 L352.30,823.15 L353.80,819.77 L355.30,816.61 L356.80,813.69 L358.30,810.99 L359.80,808.53 L361.30,806.30 L362.80,804.32 L364.30,802.59 L365.80,801.10 L367.30,799.84 L368.80,798.82 L370.30,798.03 L371.80,797.47 L373.30,797.15 L374.80,797.07 L376.30,797.24 L377.80,797.68 L379.30,798.42 L380.80,799.47 L382.30,800.87 L383.80,802.66 L385.30,804.88 L386.80,807.55 L388.30,810.70 L389.80,814.30 L391.30,818.31 L392.80,822.65 L394.30,827.22 L395.80,831.92 L397.30,836.64 L398.80,841.29 L400.30,845.83 L401.80,850.21 L403.30,854.42 L404.80,858.42 L406.30,862.20 L407.80,865.78 L409.30,869.15 L410.80,872.35 L412.30,875.42 L413.80,878.41 L415.30,881.31 L416.80,884.17 L418.30,886.98 L419.80,889.79 L421.30,892.59 L422.80,895.41 L424.30,898.25 L425.80,901.11 L427.30,904.00 L428.80,906.90 L430.30,909.81 L431.80,912.73 L433.30,915.64 L434.80,918.52 L436.30,921.36 L437.80,924.16 L439.30,926.91 L440.80,929.61 L442.30,932.24 L443.80,934.81 L445.30,937.31 L446.80,939.76 L448.30,942.15 L449.80,944.50 L451.30,946.80 L452.80,949.05 L454.30,951.25 L455.80,953.41 L457.30,955.54 L458.80,957.63 L460.30,959.71 L461.80,961.76 L463.30,963.79 L464.80,965.78 L466.30,967.74 L467.80,969.66 L469.30,971.56 L470.80,973.46 L472.30,975.36 L473.80,977.28 L475.30,979.24 L476.80,981.22 L478.30,983.22 L479.80,985.22 L481.30,987.20 L482.80,989.13 L484.30,990.99 L485.80,992.77 L487.30,994.45 L488.80,996.04 L490.30,997.52 L491.80,998.90 L493.30,1000.16 L494.80,1001.33 L496.30,1002.38 L497.80,1003.33 L499.30,1004.17 L500.80,1004.91 L502.30,1005.56 L503.80,1006.12 L505.30,1006.60 L506.80,1007.00 L508.30,1007.34 L509.80,1007.62 L511.30,1007.86 L512.80,1008.06 L514.30,1008.23 L515.80,1008.36 L517.30,1008.47 L518.80,1008.56 L520.30,1008.64 L521.80,1008.70 L523.30,1008.76 L524.80,1008.81 L526.30,1008.86 L527.80,1008.92 L529.30,1008.97 L530.80,1009.02 L532.30,1009.06 L533.80,1009.11 L535.30,1009.16 L536.80,1009.20 L538.30,1009.24 L539.80,1009.28 L541.30,1009.32 L542.80,1009.36 L544.30,1009.40 L545.80,1009.44 L547.30,1009.48 L548.80,1009.52 L550.30,1009.56 L551.80,1009.60 L553.30,1009.64 L554.80,1009.67 L556.30,1009.71 L557.80,1009.74 L559.30,1009.77 L560.80,1009.80 L562.30,1009.83 L563.80,1009.85 L565.30,1009.87 L566.80,1009.89 L568.30,1009.91 L569.80,1009.93 L571.30,1009.95 L572.80,1009.96 L574.30,1009.98 L575.80,1010.00 L577.30,1010.02 L578.80,1010.04 L580.30,1010.05 L581.80,1010.07 L583.30,1010.09 L584.80,1010.11 L586.30,1010.13 L587.80,1010.15 L589.30,1010.17 L590.80,1010.19 L592.30,1010.21 L593.80,1010.23 L595.30,1010.24 L596.80,1010.26 L598.30,1010.28 L599.80,1010.29 L601.30,1010.30 L602.80,1010.31 L604.30,1010.32 L605.80,1010.32 L607.30,1010.33 L608.80,1010.33 L610.30,1010.34 L611.80,1010.34 L613.30,1010.35 L614.80,1010.35 L616.30,1010.35 L617.80,1010.36 L619.30,1010.36 L620.80,1010.37 L622.30,1010.37 L623.80,1010.38 L625.30,1010.38 L626.80,1010.39 L628.30,1010.39 L629.80,1010.40 L631.30,1010.40 L632.80,1010.40 L634.30,1010.40 L635.80,1010.40 L637.30,1010.40 L638.80,1010.40 L640.30,1010.40 L641.80,1010.40 L643.30,1010.40 L644.80,1010.40 L646.30,1010.40 L647.80,1010.40 L649.30,1010.40 L650.80,1010.40 L652.30,1010.40 L653.80,1010.40 L655.30,1010.40 L656.80,1010.40 L658.30,1010.40 L659.80,1010.40 L660.80,1010.40 L660.80,1010.40 L104.80,1010.40 Z" fill="#d9d9d9" stroke="none"/>
<path d="M104.80,1010.40 L106.30,1010.40 L107.80,1010.40 L109.30,1010.40 L110.80,1010.40 L112.30,1010.40 L113.80,1010.40 L115.30,1010.40 L116.80,1010.40 L118.30,1010.40 L119.80,1010.40 L121.30,1010.40 L122.80,1010.40 L124.30,1010.40 L125.80,1010.40 L127.30,1010.40 L128.80,1010.40 L130.30,1010.40 L131.80,1010.40 L133.30,1010.40 L134.80,1010.40 L136.30,1010.40 L137.80,1010.40 L139.30,1010.40 L140.80,1010.40 L142.30,1010.40 L143.80,1010.40 L145.30,1010.40 L146.80,1010.40 L148.30,1010.40 L149.80,1010.40 L151.30,1010.40 L152.80,1010.40 L154.30,1010.40 L155.80,1010.40 L157.30,1010.40 L158.80,1010.40 L160.30,1010.40 L161.80,1010.40 L163.30,1010.40 L164.80,1010.40 L166.30,1010.40 L167.80,1010.40 L169.30,1010.40 L170.80,1010.40 L172.30,1010.40 L173.80,1010.40 L175.30,1010.40 L176.80,1010.40 L178.30,1010.40 L179.80,1010.40 L181.30,1010.40 L182.80,1010.40 L184.30,1010.40 L185.80,1010.40 L187.30,1010.40 L188.80,1010.40 L190.30,1010.40 L191.80,1010.39 L193.30,1010.39 L194.80,1010.39 L196.30,1010.39 L197.80,1010.39 L199.30,1010.39 L200.80,1010.38 L202.30,1010.38 L203.80,1010.38 L205.30,1010.38 L206.80,1010.38 L208.30,1010.37 L209.80,1010.37 L211.30,1010.37 L212.80,1010.37 L214.30,1010.37 L215.80,1010.37 L217.30,1010.36 L218.80,1010.36 L220.30,1010.36 L221.80,1010.36 L223.30,1010.36 L224.80,1010.35 L226.30,1010.35 L227.80,1010.35 L229.30,1010.35 L230.80,1010.35 L232.30,1010.35 L233.80,1010.34 L235.30,1010.34 L236.80,1010.34 L238.30,1010.34 L239.80,1010.34 L241.30,1010.33 L242.80,1010.33 L244.30,1010.33 L245.80,1010.33 L247.30,1010.33 L248.80,1010.33 L250.30,1010.32 L251.80,1010.32 L253.30,1010.32 L254.80,1010.32 L256.30,1010.32 L257.80,1010.32 L259.30,1010.32 L260.80,1010.32 L262.30,1010.32 L263.80,1010.32 L265.30,1010.32 L266.80,1010.31 L268.30,1010.29 L269.80,1010.27 L271.30,1010.24 L272.80,1010.21 L274.30,1010.16 L275.80,1010.12 L277.30,1010.07 L278.80,1010.02 L280.30,1009.97 L281.80,1009.92 L283.30,1009.87 L284.80,1009.82 L286.30,1009.77 L287.80,1009.72 L289.30,1009.65 L290.80,1009.59 L292.30,1009.51 L293.80,1009.42 L295.30,1009.32 L296.80,1009.20 L298.30,1009.06 L299.80,1008.89 L301.30,1008.70 L302.80,1008.47 L304.30,1008.19 L305.80,1007.86 L307.30,1007.46 L308.80,1007.00 L310.30,1006.47 L311.80,1005.88 L313.30,1005.24 L314.80,1004.54 L316.30,1003.79 L317.80,1002.97 L319.30,1002.09 L320.80,1001.12 L322.30,1000.04 L323.80,998.88 L325.30,997.61 L326.80,996.25 L328.30,994.81 L329.80,993.30 L331.30,991.72 L332.80,990.08 L334.30,988.38 L335.80,986.64 L337.30,984.85 L338.80,983.01 L340.30,981.14 L341.80,979.24 L343.30,977.32 L344.80,975.39 L346.30,973.46 L347.80,971.55 L349.30,969.65 L350.80,967.77 L352.30,965.91 L353.80,964.08 L355.30,962.24 L356.80,960.41 L358.30,958.55 L359.80,956.67 L361.30,954.73 L362.80,952.74 L364.30,950.66 L365.80,948.45 L367.30,946.07 L368.80,943.49 L370.30,940.67 L371.80,937.57 L373.30,934.15 L374.80,930.38 L376.30,926.25 L377.80,921.75 L379.30,916.89 L380.80,911.70 L382.30,906.20 L383.80,900.40 L385.30,894.31 L386.80,887.95 L388.30,881.34 L389.80,874.55 L391.30,867.71 L392.80,860.95 L394.30,854.41 L395.80,848.14 L397.30,842.19 L398.80,836.56 L400.30,831.23 L401.80,826.21 L403.30,821.51 L404.80,817.15 L406.30,813.15 L407.80,809.49 L409.30,806.18 L410.80,803.22 L412.30,800.59 L413.80,798.30 L415.30,796.33 L416.80,794.68 L418.30,793.35 L419.80,792.32 L421.30,791.59 L422.80,791.13 L424.30,790.94 L425.80,791.03 L427.30,791.38 L428.80,792.02 L430.30,792.96 L431.80,794.24 L433.30,795.85 L434.80,797.81 L436.30,800.14 L437.80,802.80 L439.30,805.77 L440.80,809.01 L442.30,812.48 L443.80,816.12 L445.30,819.89 L446.80,823.78 L448.30,827.78 L449.80,831.91 L451.30,836.15 L452.80,840.52 L454.30,844.97 L455.80,849.46 L457.30,853.97 L458.80,858.46 L460.30,862.87 L461.80,867.16 L463.30,871.30 L464.80,875.24 L466.30,878.98 L467.80,882.53 L469.30,885.91 L470.80,889.12 L472.30,892.21 L473.80,895.19 L475.30,898.06 L476.80,900.84 L478.30,903.55 L479.80,906.23 L481.30,908.90 L482.80,911.62 L484.30,914.41 L485.80,917.30 L487.30,920.33 L488.80,923.50 L490.30,926.79 L491.80,930.20 L493.30,933.66 L494.80,937.16 L496.30,940.66 L497.80,944.17 L499.30,947.66 L500.80,951.14 L502.30,954.59 L503.80,958.00 L505.30,961.37 L506.80,964.68 L508.30,967.90 L509.80,971.02 L511.30,974.00 L512.80,976.83 L514.30,979.48 L515.80,981.93 L517.30,984.18 L518.80,986.25 L520.30,988.13 L521.80,989.82 L523.30,991.34 L524.80,992.71 L526.30,993.92 L527.80,995.00 L529.30,995.96 L530.80,996.82 L532.30,997.58 L533.80,998.28 L535.30,998.92 L536.80,999.52 L538.30,1000.09 L539.80,1000.64 L541.30,1001.17 L542.80,1001.68 L544.30,1002.18 L545.80,1002.65 L547.30,1003.11 L548.80,1003.56 L550.30,1003.99 L551.80,1004.41 L553.30,1004.81 L554.80,1005.19 L556.30,1005.56 L557.80,1005.92 L559.30,1006.26 L560.80,1006.58 L562.30,1006.88 L563.80,1007.16 L565.30,1007.41 L566.80,1007.64 L568.30,1007.85 L569.80,1008.04 L571.30,1008.21 L572.80,1008.36 L574.30,1008.49 L575.80,1008.62 L577.30,1008.73 L578.80,1008.83 L580.30,1008.93 L581.80,1009.01 L583.30,1009.10 L584.80,1009.17 L586.30,1009.25 L587.80,1009.32 L589.30,1009.39 L590.80,1009.47 L592.30,1009.54 L593.80,1009.61 L595.30,1009.68 L596.80,1009.75 L598.30,1009.81 L599.80,1009.87 L601.30,1009.92 L602.80,1009.96 L604.30,1010.00 L605.80,1010.03 L607.30,1010.07 L608.80,1010.10 L610.30,1010.12 L611.80,1010.15 L613.30,1010.18 L614.80,1010.21 L616.30,1010.23 L617.80,1010.26 L619.30,1010.28 L620.80,1010.30 L622.30,1010.31 L623.80,1010.32 L625.30,1010.33 L626.80,1010.34 L628.30,1010.35 L629.80,1010.35 L631.30,1010.36 L632.80,1010.37 L634.30,1010.37 L635.80,1010.38 L637.30,1010.39 L638.80,1010.39 L640.30,1010.40 L641.80,1010.40 L643.30,1010.40 L644.80,1010.40 L646.30,1010.40 L647.80,1010.40 L649.30,1010.40 L650.80,1010.40 L652.30,1010.40 L653.80,1010.40 L655.30,1010.40 L656.80,1010.40 L658.30,1010.40 L659.80,1010.40 L660.80,1010.40 L660.80,1010.40 L104.80,1010.40 Z" fill="rgba(178,223,230,0.75)" stroke="none"/>
<path d="M104.80,1010.40 L106.30,1010.40 L107.80,1010.40 L109.30,1010.40 L110.80,1010.40 L112.30,1010.40 L113.80,1010.40 L115.30,1010.40 L116.80,1010.40 L118.30,1010.40 L119.80,1010.40 L121.30,1010.40 L122.80,1010.40 L124.30,1010.40 L125.80,1010.40 L127.30,1010.40 L128.80,1010.40 L130.30,1010.40 L131.80,1010.40 L133.30,1010.40 L134.80,1010.40 L136.30,1010.40 L137.80,1010.40 L139.30,1010.40 L140.80,1010.40 L142.30,1010.40 L143.80,1010.40 L145.30,1010.40 L146.80,1010.40 L148.30,1010.40 L149.80,1010.40 L151.30,1010.40 L152.80,1010.40 L154.30,1010.40 L155.80,1010.40 L157.30,1010.40 L158.80,1010.40 L160.30,1010.40 L161.80,1010.40 L163.30,1010.40 L164.80,1010.40 L166.30,1010.40 L167.80,1010.40 L169.30,1010.40 L170.80,1010.40 L172.30,1010.40 L173.80,1010.40 L175.30,1010.40 L176.80,1010.40 L178.30,1010.40 L179.80,1010.40 L181.30,1010.40 L182.80,1010.40 L184.30,1010.40 L185.80,1010.40 L187.30,1010.40 L188.80,1010.40 L190.30,1010.40 L191.80,1010.40 L193.30,1010.40 L194.80,1010.40 L196.30,1010.40 L197.80,1010.40 L199.30,1010.40 L200.80,1010.40 L202.30,1010.39 L203.80,1010.39 L205.30,1010.39 L206.80,1010.39 L208.30,1010.39 L209.80,1010.39 L211.30,1010.38 L212.80,1010.38 L214.30,1010.38 L215.80,1010.38 L217.30,1010.38 L218.80,1010.38 L220.30,1010.38 L221.80,1010.37 L223.30,1010.37 L224.80,1010.37 L226.30,1010.37 L227.80,1010.37 L229.30,1010.37 L230.80,1010.36 L232.30,1010.36 L233.80,1010.36 L235.30,1010.36 L236.80,1010.36 L238.30,1010.36 L239.80,1010.35 L241.30,1010.35 L242.80,1010.35 L244.30,1010.35 L245.80,1010.35 L247.30,1010.35 L248.80,1010.34 L250.30,1010.34 L251.80,1010.34 L253.30,1010.34 L254.80,1010.34 L256.30,1010.34 L257.80,1010.33 L259.30,1010.33 L260.80,1010.33 L262.30,1010.33 L263.80,1010.33 L265.30,1010.33 L266.80,1010.33 L268.30,1010.32 L269.80,1010.32 L271.30,1010.32 L272.80,1010.32 L274.30,1010.32 L275.80,1010.32 L277.30,1010.32 L278.80,1010.32 L280.30,1010.32 L281.80,1010.32 L283.30,1010.31 L284.80,1010.31 L286.30,1010.31 L287.80,1010.30 L289.30,1010.29 L290.80,1010.27 L292.30,1010.26 L293.80,1010.23 L295.30,1010.21 L296.80,1010.19 L298.30,1010.16 L299.80,1010.13 L301.30,1010.10 L302.80,1010.07 L304.30,1010.03 L305.80,1009.99 L307.30,1009.94 L308.80,1009.88 L310.30,1009.81 L311.80,1009.71 L313.30,1009.60 L314.80,1009.47 L316.30,1009.33 L317.80,1009.17 L319.30,1009.01 L320.80,1008.84 L322.30,1008.66 L323.80,1008.49 L325.30,1008.32 L326.80,1008.15 L328.30,1007.97 L329.80,1007.81 L331.30,1007.64 L332.80,1007.47 L334.30,1007.31 L335.80,1007.15 L337.30,1006.98 L338.80,1006.81 L340.30,1006.63 L341.80,1006.45 L343.30,1006.26 L344.80,1006.07 L346.30,1005.86 L347.80,1005.65 L349.30,1005.43 L350.80,1005.19 L352.30,1004.95 L353.80,1004.69 L355.30,1004.41 L356.80,1004.12 L358.30,1003.80 L359.80,1003.45 L361.30,1003.08 L362.80,1002.67 L364.30,1002.23 L365.80,1001.75 L367.30,1001.21 L368.80,1000.63 L370.30,1000.00 L371.80,999.30 L373.30,998.54 L374.80,997.71 L376.30,996.83 L377.80,995.89 L379.30,994.91 L380.80,993.88 L382.30,992.80 L383.80,991.66 L385.30,990.47 L386.80,989.22 L388.30,987.90 L389.80,986.51 L391.30,985.03 L392.80,983.47 L394.30,981.83 L395.80,980.08 L397.30,978.24 L398.80,976.29 L400.30,974.24 L401.80,972.08 L403.30,969.81 L404.80,967.43 L406.30,964.96 L407.80,962.40 L409.30,959.76 L410.80,957.06 L412.30,954.31 L413.80,951.53 L415.30,948.74 L416.80,945.94 L418.30,943.16 L419.80,940.40 L421.30,937.68 L422.80,935.01 L424.30,932.40 L425.80,929.86 L427.30,927.39 L428.80,924.98 L430.30,922.64 L431.80,920.36 L433.30,918.14 L434.80,915.98 L436.30,913.91 L437.80,911.95 L439.30,910.10 L440.80,908.39 L442.30,906.83 L443.80,905.42 L445.30,904.16 L446.80,903.05 L448.30,902.08 L449.80,901.22 L451.30,900.47 L452.80,899.81 L454.30,899.22 L455.80,898.69 L457.30,898.21 L458.80,897.78 L460.30,897.41 L461.80,897.08 L463.30,896.80 L464.80,896.55 L466.30,896.31 L467.80,896.06 L469.30,895.78 L470.80,895.47 L472.30,895.10 L473.80,894.65 L475.30,894.13 L476.80,893.51 L478.30,892.79 L479.80,891.97 L481.30,891.04 L482.80,890.00 L484.30,888.84 L485.80,887.54 L487.30,886.10 L488.80,884.50 L490.30,882.72 L491.80,880.75 L493.30,878.62 L494.80,876.34 L496.30,873.95 L497.80,871.48 L499.30,868.98 L500.80,866.48 L502.30,864.00 L503.80,861.58 L505.30,859.21 L506.80,856.91 L508.30,854.71 L509.80,852.61 L511.30,850.66 L512.80,848.88 L514.30,847.27 L515.80,845.85 L517.30,844.61 L518.80,843.58 L520.30,842.74 L521.80,842.09 L523.30,841.63 L524.80,841.37 L526.30,841.32 L527.80,841.50 L529.30,841.90 L530.80,842.56 L532.30,843.46 L533.80,844.61 L535.30,845.99 L536.80,847.59 L538.30,849.40 L539.80,851.39 L541.30,853.58 L542.80,855.95 L544.30,858.49 L545.80,861.21 L547.30,864.11 L548.80,867.18 L550.30,870.40 L551.80,873.77 L553.30,877.27 L554.80,880.89 L556.30,884.60 L557.80,888.38 L559.30,892.21 L560.80,896.07 L562.30,899.95 L563.80,903.84 L565.30,907.72 L566.80,911.60 L568.30,915.48 L569.80,919.35 L571.30,923.22 L572.80,927.10 L574.30,930.96 L575.80,934.78 L577.30,938.54 L578.80,942.23 L580.30,945.85 L581.80,949.39 L583.30,952.86 L584.80,956.24 L586.30,959.54 L587.80,962.74 L589.30,965.85 L590.80,968.85 L592.30,971.74 L593.80,974.52 L595.30,977.17 L596.80,979.70 L598.30,982.11 L599.80,984.40 L601.30,986.58 L602.80,988.65 L604.30,990.58 L605.80,992.40 L607.30,994.08 L608.80,995.65 L610.30,997.09 L611.80,998.42 L613.30,999.64 L614.80,1000.75 L616.30,1001.76 L617.80,1002.69 L619.30,1003.52 L620.80,1004.28 L622.30,1004.95 L623.80,1005.55 L625.30,1006.08 L626.80,1006.54 L628.30,1006.94 L629.80,1007.28 L631.30,1007.58 L632.80,1007.84 L634.30,1008.07 L635.80,1008.26 L637.30,1008.44 L638.80,1008.60 L640.30,1008.75 L641.80,1008.88 L643.30,1008.99 L644.80,1009.10 L646.30,1009.20 L647.80,1009.29 L649.30,1009.38 L650.80,1009.46 L652.30,1009.53 L653.80,1009.60 L655.30,1009.67 L656.80,1009.74 L658.30,1009.80 L659.80,1009.87 L660.80,1009.91 L660.80,1010.40 L104.80,1010.40 Z" fill="rgba(254,181,192,0.74)" stroke="none"/>
<clipPath id="clipc"><rect x="104.80" y="753.20" width="556.00" height="267.20"/></clipPath>
<g clip-path="url(#clipc)">
<path d="M104.80,1010.40 L106.30,1010.40 L107.80,1010.40 L109.30,1010.40 L110.80,1010.40 L112.30,1010.40 L113.80,1010.40 L115.30,1010.40 L116.80,1010.40 L118.30,1010.40 L119.80,1010.40 L121.30,1010.40 L122.80,1010.40 L124.30,1010.40 L125.80,1010.40 L127.30,1010.40 L128.80,1010.40 L130.30,1010.40 L131.80,1010.40 L133.30,1010.40 L134.80,1010.40 L136.30,1010.40 L137.80,1010.40 L139.30,1010.40 L140.80,1010.40 L142.30,1010.40 L143.80,1010.40 L145.30,1010.40 L146.80,1010.40 L148.30,1010.40 L149.80,1010.40 L151.30,1010.40 L152.80,1010.40 L154.30,1010.40 L155.80,1010.40 L157.30,1010.40 L158.80,1010.40 L160.30,1010.40 L161.80,1010.40 L163.30,1010.40 L164.80,1010.40 L166.30,1010.39 L167.80,1010.39 L169.30,1010.39 L170.80,1010.39 L172.30,1010.38 L173.80,1010.38 L175.30,1010.38 L176.80,1010.38 L178.30,1010.37 L179.80,1010.37 L181.30,1010.37 L182.80,1010.36 L184.30,1010.36 L185.80,1010.36 L187.30,1010.36 L188.80,1010.35 L190.30,1010.35 L191.80,1010.35 L193.30,1010.35 L194.80,1010.34 L196.30,1010.34 L197.80,1010.34 L199.30,1010.34 L200.80,1010.33 L202.30,1010.33 L203.80,1010.33 L205.30,1010.33 L206.80,1010.33 L208.30,1010.33 L209.80,1010.33 L211.30,1010.33 L212.80,1010.33 L214.30,1010.32 L215.80,1010.32 L217.30,1010.30 L218.80,1010.29 L220.30,1010.26 L221.80,1010.23 L223.30,1010.20 L224.80,1010.15 L226.30,1010.11 L227.80,1010.06 L229.30,1010.01 L230.80,1009.96 L232.30,1009.90 L233.80,1009.85 L235.30,1009.79 L236.80,1009.73 L238.30,1009.66 L239.80,1009.58 L241.30,1009.49 L242.80,1009.40 L244.30,1009.29 L245.80,1009.18 L247.30,1009.06 L248.80,1008.94 L250.30,1008.82 L251.80,1008.69 L253.30,1008.55 L254.80,1008.41 L256.30,1008.26 L257.80,1008.10 L259.30,1007.92 L260.80,1007.72 L262.30,1007.51 L263.80,1007.26 L265.30,1006.97 L266.80,1006.64 L268.30,1006.25 L269.80,1005.80 L271.30,1005.28 L272.80,1004.67 L274.30,1003.99 L275.80,1003.23 L277.30,1002.39 L278.80,1001.47 L280.30,1000.47 L281.80,999.40 L283.30,998.24 L284.80,997.01 L286.30,995.70 L287.80,994.31 L289.30,992.84 L290.80,991.28 L292.30,989.64 L293.80,987.88 L295.30,986.01 L296.80,984.01 L298.30,981.87 L299.80,979.59 L301.30,977.17 L302.80,974.61 L304.30,971.90 L305.80,969.04 L307.30,965.99 L308.80,962.75 L310.30,959.27 L311.80,955.50 L313.30,951.40 L314.80,946.97 L316.30,942.25 L317.80,937.32 L319.30,932.22 L320.80,927.04 L322.30,921.84 L323.80,916.64 L325.30,911.47 L326.80,906.31 L328.30,901.15 L329.80,895.97 L331.30,890.74 L332.80,885.46 L334.30,880.14 L335.80,874.79 L337.30,869.43 L338.80,864.08 L340.30,858.79 L341.80,853.61 L343.30,848.57 L344.80,843.73 L346.30,839.13 L347.80,834.77 L349.30,830.65 L350.80,826.78 L352.30,823.15 L353.80,819.77 L355.30,816.61 L356.80,813.69 L358.30,810.99 L359.80,808.53 L361.30,806.30 L362.80,804.32 L364.30,802.59 L365.80,801.10 L367.30,799.84 L368.80,798.82 L370.30,798.03 L371.80,797.47 L373.30,797.15 L374.80,797.07 L376.30,797.24 L377.80,797.68 L379.30,798.42 L380.80,799.47 L382.30,800.87 L383.80,802.66 L385.30,804.88 L386.80,807.55 L388.30,810.70 L389.80,814.30 L391.30,818.31 L392.80,822.65 L394.30,827.22 L395.80,831.92 L397.30,836.64 L398.80,841.29 L400.30,845.83 L401.80,850.21 L403.30,854.42 L404.80,858.42 L406.30,862.20 L407.80,865.78 L409.30,869.15 L410.80,872.35 L412.30,875.42 L413.80,878.41 L415.30,881.31 L416.80,884.17 L418.30,886.98 L419.80,889.79 L421.30,892.59 L422.80,895.41 L424.30,898.25 L425.80,901.11 L427.30,904.00 L428.80,906.90 L430.30,909.81 L431.80,912.73 L433.30,915.64 L434.80,918.52 L436.30,921.36 L437.80,924.16 L439.30,926.91 L440.80,929.61 L442.30,932.24 L443.80,934.81 L445.30,937.31 L446.80,939.76 L448.30,942.15 L449.80,944.50 L451.30,946.80 L452.80,949.05 L454.30,951.25 L455.80,953.41 L457.30,955.54 L458.80,957.63 L460.30,959.71 L461.80,961.76 L463.30,963.79 L464.80,965.78 L466.30,967.74 L467.80,969.66 L469.30,971.56 L470.80,973.46 L472.30,975.36 L473.80,977.28 L475.30,979.24 L476.80,981.22 L478.30,983.22 L479.80,985.22 L481.30,987.20 L482.80,989.13 L484.30,990.99 L485.80,992.77 L487.30,994.45 L488.80,996.04 L490.30,997.52 L491.80,998.90 L493.30,1000.16 L494.80,1001.33 L496.30,1002.38 L497.80,1003.33 L499.30,1004.17 L500.80,1004.91 L502.30,1005.56 L503.80,1006.12 L505.30,1006.60 L506.80,1007.00 L508.30,1007.34 L509.80,1007.62 L511.30,1007.86 L512.80,1008.06 L514.30,1008.23 L515.80,1008.36 L517.30,1008.47 L518.80,1008.56 L520.30,1008.64 L521.80,1008.70 L523.30,1008.76 L524.80,1008.81 L526.30,1008.86 L527.80,1008.92 L529.30,1008.97 L530.80,1009.02 L532.30,1009.06 L533.80,1009.11 L535.30,1009.16 L536.80,1009.20 L538.30,1009.24 L539.80,1009.28 L541.30,1009.32 L542.80,1009.36 L544.30,1009.40 L545.80,1009.44 L547.30,1009.48 L548.80,1009.52 L550.30,1009.56 L551.80,1009.60 L553.30,1009.64 L554.80,1009.67 L556.30,1009.71 L557.80,1009.74 L559.30,1009.77 L560.80,1009.80 L562.30,1009.83 L563.80,1009.85 L565.30,1009.87 L566.80,1009.89 L568.30,1009.91 L569.80,1009.93 L571.30,1009.95 L572.80,1009.96 L574.30,1009.98 L575.80,1010.00 L577.30,1010.02 L578.80,1010.04 L580.30,1010.05 L581.80,1010.07 L583.30,1010.09 L584.80,1010.11 L586.30,1010.13 L587.80,1010.15 L589.30,1010.17 L590.80,1010.19 L592.30,1010.21 L593.80,1010.23 L595.30,1010.24 L596.80,1010.26 L598.30,1010.28 L599.80,1010.29 L601.30,1010.30 L602.80,1010.31 L604.30,1010.32 L605.80,1010.32 L607.30,1010.33 L608.80,1010.33 L610.30,1010.34 L611.80,1010.34 L613.30,1010.35 L614.80,1010.35 L616.30,1010.35 L617.80,1010.36 L619.30,1010.36 L620.80,1010.37 L622.30,1010.37 L623.80,1010.38 L625.30,1010.38 L626.80,1010.39 L628.30,1010.39 L629.80,1010.40 L631.30,1010.40 L632.80,1010.40 L634.30,1010.40 L635.80,1010.40 L637.30,1010.40 L638.80,1010.40 L640.30,1010.40 L641.80,1010.40 L643.30,1010.40 L644.80,1010.40 L646.30,1010.40 L647.80,1010.40 L649.30,1010.40 L650.80,1010.40 L652.30,1010.40 L653.80,1010.40 L655.30,1010.40 L656.80,1010.40 L658.30,1010.40 L659.80,1010.40 L660.80,1010.40" fill="none" stroke="#4f4f4f" stroke-width="5.00" stroke-linejoin="round" stroke-linecap="round"/>
<path d="M104.80,1010.40 L106.30,1010.40 L107.80,1010.40 L109.30,1010.40 L110.80,1010.40 L112.30,1010.40 L113.80,1010.40 L115.30,1010.40 L116.80,1010.40 L118.30,1010.40 L119.80,1010.40 L121.30,1010.40 L122.80,1010.40 L124.30,1010.40 L125.80,1010.40 L127.30,1010.40 L128.80,1010.40 L130.30,1010.40 L131.80,1010.40 L133.30,1010.40 L134.80,1010.40 L136.30,1010.40 L137.80,1010.40 L139.30,1010.40 L140.80,1010.40 L142.30,1010.40 L143.80,1010.40 L145.30,1010.40 L146.80,1010.40 L148.30,1010.40 L149.80,1010.40 L151.30,1010.40 L152.80,1010.40 L154.30,1010.40 L155.80,1010.40 L157.30,1010.40 L158.80,1010.40 L160.30,1010.40 L161.80,1010.40 L163.30,1010.40 L164.80,1010.40 L166.30,1010.40 L167.80,1010.40 L169.30,1010.40 L170.80,1010.40 L172.30,1010.40 L173.80,1010.40 L175.30,1010.40 L176.80,1010.40 L178.30,1010.40 L179.80,1010.40 L181.30,1010.40 L182.80,1010.40 L184.30,1010.40 L185.80,1010.40 L187.30,1010.40 L188.80,1010.40 L190.30,1010.40 L191.80,1010.39 L193.30,1010.39 L194.80,1010.39 L196.30,1010.39 L197.80,1010.39 L199.30,1010.39 L200.80,1010.38 L202.30,1010.38 L203.80,1010.38 L205.30,1010.38 L206.80,1010.38 L208.30,1010.37 L209.80,1010.37 L211.30,1010.37 L212.80,1010.37 L214.30,1010.37 L215.80,1010.37 L217.30,1010.36 L218.80,1010.36 L220.30,1010.36 L221.80,1010.36 L223.30,1010.36 L224.80,1010.35 L226.30,1010.35 L227.80,1010.35 L229.30,1010.35 L230.80,1010.35 L232.30,1010.35 L233.80,1010.34 L235.30,1010.34 L236.80,1010.34 L238.30,1010.34 L239.80,1010.34 L241.30,1010.33 L242.80,1010.33 L244.30,1010.33 L245.80,1010.33 L247.30,1010.33 L248.80,1010.33 L250.30,1010.32 L251.80,1010.32 L253.30,1010.32 L254.80,1010.32 L256.30,1010.32 L257.80,1010.32 L259.30,1010.32 L260.80,1010.32 L262.30,1010.32 L263.80,1010.32 L265.30,1010.32 L266.80,1010.31 L268.30,1010.29 L269.80,1010.27 L271.30,1010.24 L272.80,1010.21 L274.30,1010.16 L275.80,1010.12 L277.30,1010.07 L278.80,1010.02 L280.30,1009.97 L281.80,1009.92 L283.30,1009.87 L284.80,1009.82 L286.30,1009.77 L287.80,1009.72 L289.30,1009.65 L290.80,1009.59 L292.30,1009.51 L293.80,1009.42 L295.30,1009.32 L296.80,1009.20 L298.30,1009.06 L299.80,1008.89 L301.30,1008.70 L302.80,1008.47 L304.30,1008.19 L305.80,1007.86 L307.30,1007.46 L308.80,1007.00 L310.30,1006.47 L311.80,1005.88 L313.30,1005.24 L314.80,1004.54 L316.30,1003.79 L317.80,1002.97 L319.30,1002.09 L320.80,1001.12 L322.30,1000.04 L323.80,998.88 L325.30,997.61 L326.80,996.25 L328.30,994.81 L329.80,993.30 L331.30,991.72 L332.80,990.08 L334.30,988.38 L335.80,986.64 L337.30,984.85 L338.80,983.01 L340.30,981.14 L341.80,979.24 L343.30,977.32 L344.80,975.39 L346.30,973.46 L347.80,971.55 L349.30,969.65 L350.80,967.77 L352.30,965.91 L353.80,964.08 L355.30,962.24 L356.80,960.41 L358.30,958.55 L359.80,956.67 L361.30,954.73 L362.80,952.74 L364.30,950.66 L365.80,948.45 L367.30,946.07 L368.80,943.49 L370.30,940.67 L371.80,937.57 L373.30,934.15 L374.80,930.38 L376.30,926.25 L377.80,921.75 L379.30,916.89 L380.80,911.70 L382.30,906.20 L383.80,900.40 L385.30,894.31 L386.80,887.95 L388.30,881.34 L389.80,874.55 L391.30,867.71 L392.80,860.95 L394.30,854.41 L395.80,848.14 L397.30,842.19 L398.80,836.56 L400.30,831.23 L401.80,826.21 L403.30,821.51 L404.80,817.15 L406.30,813.15 L407.80,809.49 L409.30,806.18 L410.80,803.22 L412.30,800.59 L413.80,798.30 L415.30,796.33 L416.80,794.68 L418.30,793.35 L419.80,792.32 L421.30,791.59 L422.80,791.13 L424.30,790.94 L425.80,791.03 L427.30,791.38 L428.80,792.02 L430.30,792.96 L431.80,794.24 L433.30,795.85 L434.80,797.81 L436.30,800.14 L437.80,802.80 L439.30,805.77 L440.80,809.01 L442.30,812.48 L443.80,816.12 L445.30,819.89 L446.80,823.78 L448.30,827.78 L449.80,831.91 L451.30,836.15 L452.80,840.52 L454.30,844.97 L455.80,849.46 L457.30,853.97 L458.80,858.46 L460.30,862.87 L461.80,867.16 L463.30,871.30 L464.80,875.24 L466.30,878.98 L467.80,882.53 L469.30,885.91 L470.80,889.12 L472.30,892.21 L473.80,895.19 L475.30,898.06 L476.80,900.84 L478.30,903.55 L479.80,906.23 L481.30,908.90 L482.80,911.62 L484.30,914.41 L485.80,917.30 L487.30,920.33 L488.80,923.50 L490.30,926.79 L491.80,930.20 L493.30,933.66 L494.80,937.16 L496.30,940.66 L497.80,944.17 L499.30,947.66 L500.80,951.14 L502.30,954.59 L503.80,958.00 L505.30,961.37 L506.80,964.68 L508.30,967.90 L509.80,971.02 L511.30,974.00 L512.80,976.83 L514.30,979.48 L515.80,981.93 L517.30,984.18 L518.80,986.25 L520.30,988.13 L521.80,989.82 L523.30,991.34 L524.80,992.71 L526.30,993.92 L527.80,995.00 L529.30,995.96 L530.80,996.82 L532.30,997.58 L533.80,998.28 L535.30,998.92 L536.80,999.52 L538.30,1000.09 L539.80,1000.64 L541.30,1001.17 L542.80,1001.68 L544.30,1002.18 L545.80,1002.65 L547.30,1003.11 L548.80,1003.56 L550.30,1003.99 L551.80,1004.41 L553.30,1004.81 L554.80,1005.19 L556.30,1005.56 L557.80,1005.92 L559.30,1006.26 L560.80,1006.58 L562.30,1006.88 L563.80,1007.16 L565.30,1007.41 L566.80,1007.64 L568.30,1007.85 L569.80,1008.04 L571.30,1008.21 L572.80,1008.36 L574.30,1008.49 L575.80,1008.62 L577.30,1008.73 L578.80,1008.83 L580.30,1008.93 L581.80,1009.01 L583.30,1009.10 L584.80,1009.17 L586.30,1009.25 L587.80,1009.32 L589.30,1009.39 L590.80,1009.47 L592.30,1009.54 L593.80,1009.61 L595.30,1009.68 L596.80,1009.75 L598.30,1009.81 L599.80,1009.87 L601.30,1009.92 L602.80,1009.96 L604.30,1010.00 L605.80,1010.03 L607.30,1010.07 L608.80,1010.10 L610.30,1010.12 L611.80,1010.15 L613.30,1010.18 L614.80,1010.21 L616.30,1010.23 L617.80,1010.26 L619.30,1010.28 L620.80,1010.30 L622.30,1010.31 L623.80,1010.32 L625.30,1010.33 L626.80,1010.34 L628.30,1010.35 L629.80,1010.35 L631.30,1010.36 L632.80,1010.37 L634.30,1010.37 L635.80,1010.38 L637.30,1010.39 L638.80,1010.39 L640.30,1010.40 L641.80,1010.40 L643.30,1010.40 L644.80,1010.40 L646.30,1010.40 L647.80,1010.40 L649.30,1010.40 L650.80,1010.40 L652.30,1010.40 L653.80,1010.40 L655.30,1010.40 L656.80,1010.40 L658.30,1010.40 L659.80,1010.40 L660.80,1010.40" fill="none" stroke="#0000cd" stroke-width="5.00" stroke-linejoin="round" stroke-linecap="round"/>
<path d="M104.80,1010.40 L106.30,1010.40 L107.80,1010.40 L109.30,1010.40 L110.80,1010.40 L112.30,1010.40 L113.80,1010.40 L115.30,1010.40 L116.80,1010.40 L118.30,1010.40 L119.80,1010.40 L121.30,1010.40 L122.80,1010.40 L124.30,1010.40 L125.80,1010.40 L127.30,1010.40 L128.80,1010.40 L130.30,1010.40 L131.80,1010.40 L133.30,1010.40 L134.80,1010.40 L136.30,1010.40 L137.80,1010.40 L139.30,1010.40 L140.80,1010.40 L142.30,1010.40 L143.80,1010.40 L145.30,1010.40 L146.80,1010.40 L148.30,1010.40 L149.80,1010.40 L151.30,1010.40 L152.80,1010.40 L154.30,1010.40 L155.80,1010.40 L157.30,1010.40 L158.80,1010.40 L160.30,1010.40 L161.80,1010.40 L163.30,1010.40 L164.80,1010.40 L166.30,1010.40 L167.80,1010.40 L169.30,1010.40 L170.80,1010.40 L172.30,1010.40 L173.80,1010.40 L175.30,1010.40 L176.80,1010.40 L178.30,1010.40 L179.80,1010.40 L181.30,1010.40 L182.80,1010.40 L184.30,1010.40 L185.80,1010.40 L187.30,1010.40 L188.80,1010.40 L190.30,1010.40 L191.80,1010.40 L193.30,1010.40 L194.80,1010.40 L196.30,1010.40 L197.80,1010.40 L199.30,1010.40 L200.80,1010.40 L202.30,1010.39 L203.80,1010.39 L205.30,1010.39 L206.80,1010.39 L208.30,1010.39 L209.80,1010.39 L211.30,1010.38 L212.80,1010.38 L214.30,1010.38 L215.80,1010.38 L217.30,1010.38 L218.80,1010.38 L220.30,1010.38 L221.80,1010.37 L223.30,1010.37 L224.80,1010.37 L226.30,1010.37 L227.80,1010.37 L229.30,1010.37 L230.80,1010.36 L232.30,1010.36 L233.80,1010.36 L235.30,1010.36 L236.80,1010.36 L238.30,1010.36 L239.80,1010.35 L241.30,1010.35 L242.80,1010.35 L244.30,1010.35 L245.80,1010.35 L247.30,1010.35 L248.80,1010.34 L250.30,1010.34 L251.80,1010.34 L253.30,1010.34 L254.80,1010.34 L256.30,1010.34 L257.80,1010.33 L259.30,1010.33 L260.80,1010.33 L262.30,1010.33 L263.80,1010.33 L265.30,1010.33 L266.80,1010.33 L268.30,1010.32 L269.80,1010.32 L271.30,1010.32 L272.80,1010.32 L274.30,1010.32 L275.80,1010.32 L277.30,1010.32 L278.80,1010.32 L280.30,1010.32 L281.80,1010.32 L283.30,1010.31 L284.80,1010.31 L286.30,1010.31 L287.80,1010.30 L289.30,1010.29 L290.80,1010.27 L292.30,1010.26 L293.80,1010.23 L295.30,1010.21 L296.80,1010.19 L298.30,1010.16 L299.80,1010.13 L301.30,1010.10 L302.80,1010.07 L304.30,1010.03 L305.80,1009.99 L307.30,1009.94 L308.80,1009.88 L310.30,1009.81 L311.80,1009.71 L313.30,1009.60 L314.80,1009.47 L316.30,1009.33 L317.80,1009.17 L319.30,1009.01 L320.80,1008.84 L322.30,1008.66 L323.80,1008.49 L325.30,1008.32 L326.80,1008.15 L328.30,1007.97 L329.80,1007.81 L331.30,1007.64 L332.80,1007.47 L334.30,1007.31 L335.80,1007.15 L337.30,1006.98 L338.80,1006.81 L340.30,1006.63 L341.80,1006.45 L343.30,1006.26 L344.80,1006.07 L346.30,1005.86 L347.80,1005.65 L349.30,1005.43 L350.80,1005.19 L352.30,1004.95 L353.80,1004.69 L355.30,1004.41 L356.80,1004.12 L358.30,1003.80 L359.80,1003.45 L361.30,1003.08 L362.80,1002.67 L364.30,1002.23 L365.80,1001.75 L367.30,1001.21 L368.80,1000.63 L370.30,1000.00 L371.80,999.30 L373.30,998.54 L374.80,997.71 L376.30,996.83 L377.80,995.89 L379.30,994.91 L380.80,993.88 L382.30,992.80 L383.80,991.66 L385.30,990.47 L386.80,989.22 L388.30,987.90 L389.80,986.51 L391.30,985.03 L392.80,983.47 L394.30,981.83 L395.80,980.08 L397.30,978.24 L398.80,976.29 L400.30,974.24 L401.80,972.08 L403.30,969.81 L404.80,967.43 L406.30,964.96 L407.80,962.40 L409.30,959.76 L410.80,957.06 L412.30,954.31 L413.80,951.53 L415.30,948.74 L416.80,945.94 L418.30,943.16 L419.80,940.40 L421.30,937.68 L422.80,935.01 L424.30,932.40 L425.80,929.86 L427.30,927.39 L428.80,924.98 L430.30,922.64 L431.80,920.36 L433.30,918.14 L434.80,915.98 L436.30,913.91 L437.80,911.95 L439.30,910.10 L440.80,908.39 L442.30,906.83 L443.80,905.42 L445.30,904.16 L446.80,903.05 L448.30,902.08 L449.80,901.22 L451.30,900.47 L452.80,899.81 L454.30,899.22 L455.80,898.69 L457.30,898.21 L458.80,897.78 L460.30,897.41 L461.80,897.08 L463.30,896.80 L464.80,896.55 L466.30,896.31 L467.80,896.06 L469.30,895.78 L470.80,895.47 L472.30,895.10 L473.80,894.65 L475.30,894.13 L476.80,893.51 L478.30,892.79 L479.80,891.97 L481.30,891.04 L482.80,890.00 L484.30,888.84 L485.80,887.54 L487.30,886.10 L488.80,884.50 L490.30,882.72 L491.80,880.75 L493.30,878.62 L494.80,876.34 L496.30,873.95 L497.80,871.48 L499.30,868.98 L500.80,866.48 L502.30,864.00 L503.80,861.58 L505.30,859.21 L506.80,856.91 L508.30,854.71 L509.80,852.61 L511.30,850.66 L512.80,848.88 L514.30,847.27 L515.80,845.85 L517.30,844.61 L518.80,843.58 L520.30,842.74 L521.80,842.09 L523.30,841.63 L524.80,841.37 L526.30,841.32 L527.80,841.50 L529.30,841.90 L530.80,842.56 L532.30,843.46 L533.80,844.61 L535.30,845.99 L536.80,847.59 L538.30,849.40 L539.80,851.39 L541.30,853.58 L542.80,855.95 L544.30,858.49 L545.80,861.21 L547.30,864.11 L548.80,867.18 L550.30,870.40 L551.80,873.77 L553.30,877.27 L554.80,880.89 L556.30,884.60 L557.80,888.38 L559.30,892.21 L560.80,896.07 L562.30,899.95 L563.80,903.84 L565.30,907.72 L566.80,911.60 L568.30,915.48 L569.80,919.35 L571.30,923.22 L572.80,927.10 L574.30,930.96 L575.80,934.78 L577.30,938.54 L578.80,942.23 L580.30,945.85 L581.80,949.39 L583.30,952.86 L584.80,956.24 L586.30,959.54 L587.80,962.74 L589.30,965.85 L590.80,968.85 L592.30,971.74 L593.80,974.52 L595.30,977.17 L596.80,979.70 L598.30,982.11 L599.80,984.40 L601.30,986.58 L602.80,988.65 L604.30,990.58 L605.80,992.40 L607.30,994.08 L608.80,995.65 L610.30,997.09 L611.80,998.42 L613.30,999.64 L614.80,1000.75 L616.30,1001.76 L617.80,1002.69 L619.30,1003.52 L620.80,1004.28 L622.30,1004.95 L623.80,1005.55 L625.30,1006.08 L626.80,1006.54 L628.30,1006.94 L629.80,1007.28 L631.30,1007.58 L632.80,1007.84 L634.30,1008.07 L635.80,1008.26 L637.30,1008.44 L638.80,1008.60 L640.30,1008.75 L641.80,1008.88 L643.30,1008.99 L644.80,1009.10 L646.30,1009.20 L647.80,1009.29 L649.30,1009.38 L650.80,1009.46 L652.30,1009.53 L653.80,1009.60 L655.30,1009.67 L656.80,1009.74 L658.30,1009.80 L659.80,1009.87 L660.80,1009.91" fill="none" stroke="#ff4500" stroke-width="5.00" stroke-linejoin="round" stroke-linecap="round"/>
</g>
<path d="M160.40,1010.40V1024.40M160.40,763.20V749.20M271.60,1010.40V1024.40M271.60,763.20V749.20M382.80,1010.40V1024.40M382.80,763.20V749.20M494.00,1010.40V1024.40M494.00,763.20V749.20M605.20,1010.40V1024.40M605.20,763.20V749.20M104.80,1010.40H90.80M660.80,1010.40H674.80M104.80,969.20H90.80M660.80,969.20H674.80M104.80,928.00H90.80M660.80,928.00H674.80M104.80,886.80H90.80M660.80,886.80H674.80M104.80,845.60H90.80M660.80,845.60H674.80M104.80,804.40H90.80M660.80,804.40H674.80M104.80,763.20H90.80M660.80,763.20H674.80" stroke="#000" stroke-width="1.6" fill="none"/>
<path d="M104.80,1010.40V1017.40M104.80,763.20V756.20M132.60,1010.40V1017.40M132.60,763.20V756.20M188.20,1010.40V1017.40M188.20,763.20V756.20M216.00,1010.40V1017.40M216.00,763.20V756.20M243.80,1010.40V1017.40M243.80,763.20V756.20M299.40,1010.40V1017.40M299.40,763.20V756.20M327.20,1010.40V1017.40M327.20,763.20V756.20M355.00,1010.40V1017.40M355.00,763.20V756.20M410.60,1010.40V1017.40M410.60,763.20V756.20M438.40,1010.40V1017.40M438.40,763.20V756.20M466.20,1010.40V1017.40M466.20,763.20V756.20M521.80,1010.40V1017.40M521.80,763.20V756.20M549.60,1010.40V1017.40M549.60,763.20V756.20M577.40,1010.40V1017.40M577.40,763.20V756.20M633.00,1010.40V1017.40M633.00,763.20V756.20M660.80,1010.40V1017.40M660.80,763.20V756.20M104.80,1002.16H97.80M660.80,1002.16H667.80M104.80,993.92H97.80M660.80,993.92H667.80M104.80,985.68H97.80M660.80,985.68H667.80M104.80,977.44H97.80M660.80,977.44H667.80M104.80,960.96H97.80M660.80,960.96H667.80M104.80,952.72H97.80M660.80,952.72H667.80M104.80,944.48H97.80M660.80,944.48H667.80M104.80,936.24H97.80M660.80,936.24H667.80M104.80,919.76H97.80M660.80,919.76H667.80M104.80,911.52H97.80M660.80,911.52H667.80M104.80,903.28H97.80M660.80,903.28H667.80M104.80,895.04H97.80M660.80,895.04H667.80M104.80,878.56H97.80M660.80,878.56H667.80M104.80,870.32H97.80M660.80,870.32H667.80M104.80,862.08H97.80M660.80,862.08H667.80M104.80,853.84H97.80M660.80,853.84H667.80M104.80,837.36H97.80M660.80,837.36H667.80M104.80,829.12H97.80M660.80,829.12H667.80M104.80,820.88H97.80M660.80,820.88H667.80M104.80,812.64H97.80M660.80,812.64H667.80M104.80,796.16H97.80M660.80,796.16H667.80M104.80,787.92H97.80M660.80,787.92H667.80M104.80,779.68H97.80M660.80,779.68H667.80M104.80,771.44H97.80M660.80,771.44H667.80" stroke="#1a1a1a" stroke-width="1.2" fill="none"/>
<rect x="104.80" y="763.20" width="556.00" height="247.20" fill="none" stroke="#000" stroke-width="2.00"/>
<text x="160.40" y="1052.80" text-anchor="middle" class="t">-40</text>
<text x="271.60" y="1052.80" text-anchor="middle" class="t">-20</text>
<text x="382.80" y="1052.80" text-anchor="middle" class="t">0</text>
<text x="494.00" y="1052.80" text-anchor="middle" class="t">20</text>
<text x="605.20" y="1052.80" text-anchor="middle" class="t">40</text>
<text x="78.80" y="1018.10" text-anchor="end" class="t">0.000</text>
<text x="78.80" y="976.90" text-anchor="end" class="t">0.010</text>
<text x="78.80" y="935.70" text-anchor="end" class="t">0.020</text>
<text x="78.80" y="894.50" text-anchor="end" class="t">0.030</text>
<text x="78.80" y="853.30" text-anchor="end" class="t">0.040</text>
<text x="78.80" y="812.10" text-anchor="end" class="t">0.050</text>
<text x="78.80" y="770.90" text-anchor="end" class="t">0.060</text>
<text x="104.20" y="743.70" class="ti" textLength="215.6" lengthAdjust="spacing"><tspan font-weight="bold">c</tspan> Fire season length</text>
<text x="383.00" y="1078.50" text-anchor="middle" class="t" textLength="324.2" lengthAdjust="spacing">Fire Season Length Anomalies [days]</text>
<text x="0" y="0" transform="translate(14.5,885.90) rotate(-90)" text-anchor="middle" class="t" textLength="148.6" lengthAdjust="spacing">Freq. Distribution</text>
<line x1="454.40" y1="781.10" x2="487.20" y2="781.10" stroke="#4f4f4f" stroke-width="4.2" stroke-linecap="round"/>
<text x="492.20" y="785.70" class="lg">NAT (1960-2015)</text>
<line x1="454.40" y1="798.95" x2="487.20" y2="798.95" stroke="#0000cd" stroke-width="4.2" stroke-linecap="round"/>
<text x="492.20" y="803.55" class="lg">2010-2014 <tspan font-weight="bold">UR</tspan></text>
<line x1="454.40" y1="816.80" x2="487.20" y2="816.80" stroke="#ff4500" stroke-width="4.2" stroke-linecap="round"/>
<text x="492.20" y="821.40" class="lg">2010-2014 <tspan font-weight="bold">AR</tspan></text>
</svg>
</body></html>
